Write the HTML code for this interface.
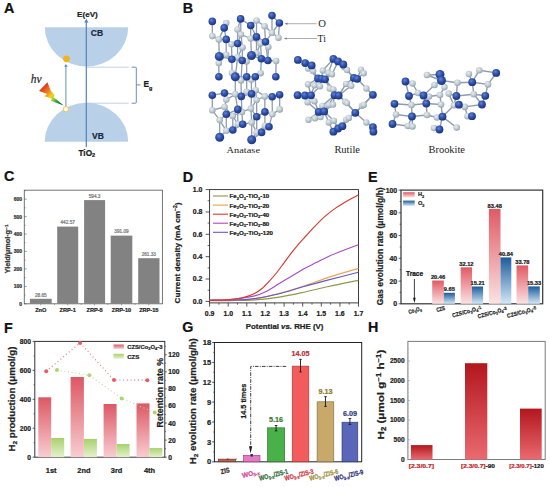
<!DOCTYPE html>
<html><head><meta charset="utf-8"><style>html,body{margin:0;padding:0;background:#fff;width:550px;height:487px;overflow:hidden}svg{display:block}</style></head>
<body><svg width="550" height="487" viewBox="0 0 550 487"><defs><linearGradient id="bolt" gradientUnits="userSpaceOnUse" x1="42" y1="86" x2="62" y2="105"><stop offset="0" stop-color="#dc2a1c"/><stop offset="0.28" stop-color="#f07a1e"/><stop offset="0.48" stop-color="#f2d21e"/><stop offset="0.62" stop-color="#a8d030"/><stop offset="0.78" stop-color="#2aa040"/><stop offset="1" stop-color="#0e5a3a"/></linearGradient><radialGradient id="ab" cx="0.4" cy="0.35" r="0.65"><stop offset="0" stop-color="#6384d4"/><stop offset="0.5" stop-color="#3052aa"/><stop offset="1" stop-color="#1a3480"/></radialGradient><radialGradient id="ag" cx="0.4" cy="0.35" r="0.65"><stop offset="0" stop-color="#e8eef2"/><stop offset="0.6" stop-color="#bcc8d0"/><stop offset="1" stop-color="#93a3ae"/></radialGradient><linearGradient id="eh" x1="0" y1="0" x2="0" y2="1"><stop offset="0" stop-color="#e05a64"/><stop offset="1" stop-color="#fbe3e4"/></linearGradient><linearGradient id="eo" x1="0" y1="0" x2="0" y2="1"><stop offset="0" stop-color="#1c5c9c"/><stop offset="1" stop-color="#d4e8f6"/></linearGradient><linearGradient id="fr" x1="0" y1="0" x2="0" y2="1"><stop offset="0" stop-color="#dc5864"/><stop offset="1" stop-color="#f8cdd1"/></linearGradient><linearGradient id="fg" x1="0" y1="0" x2="0" y2="1"><stop offset="0" stop-color="#a8d26c"/><stop offset="1" stop-color="#e4f1cf"/></linearGradient><linearGradient id="hb" x1="0" y1="0" x2="0" y2="1"><stop offset="0" stop-color="#b3161e"/><stop offset="1" stop-color="#ea6a70"/></linearGradient></defs><rect width="550" height="487" fill="#fff"/><text x="4.0" y="12.9" font-size="14.3" text-anchor="start" font-weight="bold" font-style="normal" fill="#111" font-family='"Liberation Sans", sans-serif'  stroke="#111" stroke-width="0.22">A</text>
<path d="M44.8 27.2 A41.7 39.4 0 0 0 128.2 27.2 Z" fill="#b9d0e9"/>
<path d="M44.7 141.8 A41.7 39 0 0 1 128.2 141.8 Z" fill="#b9d0e9"/>
<line x1="86.3" y1="147" x2="86.3" y2="21.5" stroke="#5482bb" stroke-width="1.2"/>
<path d="M84.2 22.5 L86.3 18.8 L88.4 22.5 Z" fill="#5482bb"/>
<text x="87.4" y="16.8" font-size="8.1" text-anchor="middle" font-weight="bold" font-style="normal" fill="#1a1a1a" font-family='"Liberation Sans", sans-serif'  stroke="#1a1a1a" stroke-width="0.22">E(eV)</text>
<text x="90.8" y="35.8" font-size="8.5" text-anchor="start" font-weight="bold" font-style="normal" fill="#1c2a44" font-family='"Liberation Sans", sans-serif'  stroke="#1c2a44" stroke-width="0.22">CB</text>
<text x="92.1" y="138.8" font-size="8.5" text-anchor="start" font-weight="bold" font-style="normal" fill="#1c2a44" font-family='"Liberation Sans", sans-serif'  stroke="#1c2a44" stroke-width="0.22">VB</text>
<text x="78.5" y="155.6" font-size="8.2" font-weight="bold" fill="#1a1a1a" font-family='"Liberation Sans", sans-serif' stroke="#1a1a1a" stroke-width="0.22">TiO<tspan font-size="5.6" dy="1.8">2</tspan></text>
<line x1="87" y1="67.2" x2="128.7" y2="67.2" stroke="#b4c8e2" stroke-width="0.8"/>
<line x1="87" y1="103.2" x2="128.7" y2="103.2" stroke="#b4c8e2" stroke-width="0.8"/>
<path d="M131.6 67.2 L135.6 67.2 Q136.3 67.2 136.3 68 L136.3 102.3 Q136.3 103.2 135.6 103.2 L131.6 103.2 M136.3 84.9 L140.5 84.9" fill="none" stroke="#5a80b8" stroke-width="0.9"/>
<text x="143.4" y="87.3" font-size="8.4" font-weight="bold" fill="#1a1a1a" font-family='"Liberation Sans", sans-serif' stroke="#1a1a1a" stroke-width="0.22">E<tspan font-size="5.4" dy="2.2">g</tspan></text>
<text x="30.8" y="82.9" font-size="11.5" text-anchor="start" font-weight="normal" font-style="italic" fill="#2a2a2a" font-family='"Liberation Serif", serif'  stroke="#2a2a2a" stroke-width="0.22">hν</text>
<path d="M47.4 82.3 L50.8 90.8 L54.5 94.8 L53.7 97.6 L56.6 99.6 L63.6 105.6 L50.8 100.8 L52.1 98.8 L44.6 96.3 L47.1 93.9 L39.1 91 Z" fill="url(#bolt)"/>
<line x1="65.9" y1="106.4" x2="65.9" y2="66" stroke="#5482bb" stroke-width="0.9"/>
<path d="M64.2 66.8 L65.9 64 L67.6 66.8 Z" fill="#5482bb"/>
<circle cx="66.5" cy="58.8" r="3.4" fill="#f2b416"/>
<circle cx="65.9" cy="109.2" r="2.7" fill="#fffbe8" stroke="#e6bc48" stroke-width="0.9"/>
<text x="182.8" y="12.7" font-size="14.3" text-anchor="start" font-weight="bold" font-style="normal" fill="#111" font-family='"Liberation Sans", sans-serif'  stroke="#111" stroke-width="0.22">B</text>
<g stroke="#8e9cb0" stroke-width="1.3"><line x1="240.6" y1="18.9" x2="237.6" y2="29.5"/><line x1="240.6" y1="18.9" x2="250.7" y2="25.5"/><line x1="272" y1="15.6" x2="279.4" y2="23"/><line x1="279.4" y1="23" x2="272" y2="32.8"/><line x1="224.2" y1="27.9" x2="226.2" y2="23"/><line x1="224.2" y1="27.9" x2="226.2" y2="39.4"/><line x1="224.2" y1="27.9" x2="218.8" y2="39.4"/><line x1="250.7" y1="25.5" x2="256.5" y2="20.5"/><line x1="250.7" y1="25.5" x2="256.5" y2="36.9"/><line x1="226.2" y1="39.4" x2="231.5" y2="44.2"/><line x1="226.2" y1="39.4" x2="218.8" y2="39.4"/><line x1="256.5" y1="36.9" x2="250.7" y2="38.5"/><line x1="256.5" y1="36.9" x2="260.5" y2="43.4"/><line x1="256.5" y1="36.9" x2="265.5" y2="41.8"/><line x1="265.5" y1="41.8" x2="260.5" y2="43.4"/><line x1="265.5" y1="41.8" x2="268.3" y2="47"/><line x1="237.6" y1="43.5" x2="231.5" y2="44.2"/><line x1="237.6" y1="43.5" x2="242.5" y2="47.5"/><line x1="237.6" y1="43.5" x2="240.9" y2="34.5"/><line x1="219.3" y1="56.4" x2="218.8" y2="63"/><line x1="219.3" y1="56.4" x2="226.2" y2="54.8"/><line x1="219.3" y1="56.4" x2="231.9" y2="59.3"/><line x1="231.9" y1="59.3" x2="237.6" y2="57.3"/><line x1="231.9" y1="59.3" x2="226.2" y2="54.8"/><line x1="231.9" y1="59.3" x2="242.2" y2="60.5"/><line x1="242.2" y1="60.5" x2="246.6" y2="61.4"/><line x1="242.2" y1="60.5" x2="237.6" y2="57.3"/><line x1="251.5" y1="55.5" x2="256.5" y2="53.2"/><line x1="251.5" y1="55.5" x2="246.6" y2="61.4"/><line x1="251.5" y1="55.5" x2="261.4" y2="58.8"/><line x1="261.4" y1="58.8" x2="267.9" y2="60.5"/><line x1="261.4" y1="58.8" x2="256.5" y2="53.2"/><line x1="267.9" y1="60.5" x2="276.1" y2="61"/><line x1="235.3" y1="76.8" x2="232" y2="73"/><line x1="235.3" y1="76.8" x2="241" y2="80.4"/><line x1="235.3" y1="76.8" x2="246.7" y2="76.8"/><line x1="246.7" y1="76.8" x2="251.2" y2="79.6"/><line x1="246.7" y1="76.8" x2="241" y2="80.4"/><line x1="246.7" y1="76.8" x2="255.3" y2="76.7"/><line x1="255.3" y1="76.7" x2="251.2" y2="79.6"/><line x1="255.3" y1="76.7" x2="260.6" y2="73.2"/><line x1="212.3" y1="95.2" x2="224.5" y2="93.1"/><line x1="224.5" y1="93.1" x2="226.3" y2="99.6"/><line x1="224.5" y1="93.1" x2="235.3" y2="94.3"/><line x1="241.3" y1="96.4" x2="235.3" y2="94.3"/><line x1="241.3" y1="96.4" x2="246.7" y2="91.8"/><line x1="241.3" y1="96.4" x2="251.6" y2="93.9"/><line x1="251.6" y1="93.9" x2="246.7" y2="91.8"/><line x1="251.6" y1="93.9" x2="255.7" y2="90.2"/><line x1="251.6" y1="93.9" x2="256.6" y2="100"/><line x1="272.2" y1="96.8" x2="264.8" y2="96.4"/><line x1="272.2" y1="96.8" x2="279.6" y2="94.7"/><line x1="237.8" y1="109.4" x2="241.9" y2="111.9"/><line x1="237.8" y1="109.4" x2="232.8" y2="116"/><line x1="237.8" y1="109.4" x2="226.3" y2="114.3"/><line x1="264.9" y1="111.9" x2="272.3" y2="114.3"/><line x1="264.9" y1="111.9" x2="256.7" y2="116.8"/><line x1="226.3" y1="114.3" x2="232.8" y2="116"/><line x1="226.3" y1="114.3" x2="224.6" y2="107"/><line x1="226.3" y1="114.3" x2="219.7" y2="120.1"/><line x1="256.7" y1="116.8" x2="251.7" y2="122.6"/><line x1="256.7" y1="116.8" x2="250.9" y2="108.6"/><line x1="242.7" y1="124.2" x2="237.8" y2="124.2"/><line x1="242.7" y1="124.2" x2="251.7" y2="122.6"/><line x1="242.7" y1="124.2" x2="232.8" y2="130"/><line x1="269" y1="126.7" x2="264.9" y2="125.8"/><line x1="269" y1="126.7" x2="261.6" y2="132.4"/><line x1="269" y1="126.7" x2="272.3" y2="114.3"/><line x1="232.8" y1="130" x2="226.3" y2="130.8"/><line x1="232.8" y1="130" x2="237.8" y2="124.2"/><line x1="261.6" y1="132.4" x2="256.7" y2="132.4"/><line x1="261.6" y1="132.4" x2="264.9" y2="125.8"/><line x1="219.7" y1="137.3" x2="226.3" y2="130.8"/><line x1="251.7" y1="139.8" x2="256.7" y2="132.4"/><line x1="251.7" y1="139.8" x2="261.6" y2="132.4"/><line x1="256.5" y1="20.5" x2="264.6" y2="26.3"/><line x1="237.6" y1="29.5" x2="240.9" y2="34.5"/><line x1="264.6" y1="26.3" x2="272" y2="32.8"/><line x1="272" y1="32.8" x2="278.5" y2="37.7"/><line x1="272" y1="32.8" x2="265.5" y2="41.8"/><line x1="212.3" y1="36.1" x2="218.8" y2="39.4"/><line x1="240.9" y1="34.5" x2="250.7" y2="38.5"/><line x1="250.7" y1="38.5" x2="260.5" y2="43.4"/><line x1="231.5" y1="44.2" x2="242.5" y2="47.5"/><line x1="242.5" y1="47.5" x2="237.6" y2="57.3"/><line x1="260.5" y1="43.4" x2="268.3" y2="47"/><line x1="226.2" y1="54.8" x2="218.8" y2="63"/><line x1="237.6" y1="57.3" x2="246.6" y2="61.4"/><line x1="256.5" y1="53.2" x2="260.5" y2="43.4"/><line x1="232" y1="73" x2="241" y2="80.4"/><line x1="260.6" y1="73.2" x2="251.2" y2="79.6"/><line x1="241" y1="80.4" x2="251.2" y2="79.6"/><line x1="255.7" y1="90.2" x2="246.7" y2="91.8"/><line x1="255.7" y1="90.2" x2="256.6" y2="100"/><line x1="235.3" y1="94.3" x2="226.3" y2="99.6"/><line x1="226.3" y1="99.6" x2="224.6" y2="107"/><line x1="256.6" y1="100" x2="264.8" y2="96.4"/><line x1="264.8" y1="96.4" x2="255.7" y2="90.2"/><line x1="212.3" y1="110.2" x2="219.7" y2="120.1"/><line x1="212.3" y1="110.2" x2="224.6" y2="107"/><line x1="224.6" y1="107" x2="232.8" y2="116"/><line x1="250.9" y1="108.6" x2="241.9" y2="111.9"/><line x1="250.9" y1="108.6" x2="256.6" y2="100"/><line x1="279.7" y1="109.4" x2="272.3" y2="114.3"/><line x1="232.8" y1="116" x2="237.8" y2="124.2"/><line x1="241.9" y1="111.9" x2="232.8" y2="116"/><line x1="219.7" y1="120.1" x2="226.3" y2="130.8"/><line x1="251.7" y1="122.6" x2="256.7" y2="132.4"/><line x1="264.9" y1="125.8" x2="256.7" y2="132.4"/><line x1="212.3" y1="21.4" x2="212.3" y2="36.1"/><line x1="240.6" y1="18.9" x2="240.9" y2="34.5"/><line x1="272" y1="15.6" x2="272" y2="32.8"/><line x1="279.4" y1="23" x2="278.5" y2="37.7"/><line x1="250.7" y1="25.5" x2="250.7" y2="38.5"/><line x1="226.2" y1="39.4" x2="226.2" y2="54.8"/><line x1="256.5" y1="36.9" x2="256.5" y2="53.2"/><line x1="265.5" y1="41.8" x2="267.9" y2="60.5"/><line x1="237.6" y1="43.5" x2="237.6" y2="57.3"/><line x1="231.9" y1="59.3" x2="232" y2="73"/><line x1="242.2" y1="60.5" x2="241" y2="80.4"/><line x1="261.4" y1="58.8" x2="260.6" y2="73.2"/><line x1="235.3" y1="76.8" x2="235.3" y2="94.3"/><line x1="246.7" y1="76.8" x2="246.7" y2="91.8"/><line x1="255.3" y1="76.7" x2="255.7" y2="90.2"/><line x1="212.3" y1="95.2" x2="212.3" y2="110.2"/><line x1="241.3" y1="96.4" x2="241.9" y2="111.9"/><line x1="251.6" y1="93.9" x2="250.9" y2="108.6"/><line x1="272.2" y1="96.8" x2="272.3" y2="114.3"/><line x1="279.6" y1="94.7" x2="279.7" y2="109.4"/><line x1="237.8" y1="109.4" x2="237.8" y2="124.2"/><line x1="264.9" y1="111.9" x2="264.9" y2="125.8"/><line x1="226.3" y1="114.3" x2="226.3" y2="130.8"/><line x1="256.7" y1="116.8" x2="256.7" y2="132.4"/><line x1="256.5" y1="20.5" x2="256.5" y2="36.9"/><line x1="237.6" y1="29.5" x2="237.6" y2="43.5"/><line x1="264.6" y1="26.3" x2="265.5" y2="41.8"/><line x1="218.8" y1="39.4" x2="219.3" y2="56.4"/><line x1="240.9" y1="34.5" x2="242.5" y2="47.5"/><line x1="250.7" y1="38.5" x2="251.5" y2="55.5"/><line x1="231.5" y1="44.2" x2="231.9" y2="59.3"/><line x1="242.5" y1="47.5" x2="242.2" y2="60.5"/><line x1="260.5" y1="43.4" x2="261.4" y2="58.8"/><line x1="268.3" y1="47" x2="267.9" y2="60.5"/><line x1="237.6" y1="57.3" x2="235.3" y2="76.8"/><line x1="246.6" y1="61.4" x2="246.7" y2="76.8"/><line x1="276.1" y1="61" x2="275.8" y2="76.8"/><line x1="218.8" y1="63" x2="218.9" y2="76.8"/><line x1="241" y1="80.4" x2="241.3" y2="96.4"/><line x1="251.2" y1="79.6" x2="251.6" y2="93.9"/><line x1="235.3" y1="94.3" x2="237.8" y2="109.4"/><line x1="256.6" y1="100" x2="256.7" y2="116.8"/><line x1="264.8" y1="96.4" x2="264.9" y2="111.9"/><line x1="250.9" y1="108.6" x2="251.7" y2="122.6"/><line x1="232.8" y1="116" x2="232.8" y2="130"/><line x1="241.9" y1="111.9" x2="242.7" y2="124.2"/><line x1="219.7" y1="120.1" x2="219.7" y2="137.3"/><line x1="251.7" y1="122.6" x2="251.7" y2="139.8"/></g>
<circle cx="226.2" cy="23" r="3.3" fill="url(#ag)"/>
<circle cx="256.5" cy="20.5" r="3.3" fill="url(#ag)"/>
<circle cx="237.6" cy="29.5" r="3.3" fill="url(#ag)"/>
<circle cx="264.6" cy="26.3" r="3.3" fill="url(#ag)"/>
<circle cx="272" cy="32.8" r="3.3" fill="url(#ag)"/>
<circle cx="212.3" cy="36.1" r="3.3" fill="url(#ag)"/>
<circle cx="218.8" cy="39.4" r="3.3" fill="url(#ag)"/>
<circle cx="240.9" cy="34.5" r="3.3" fill="url(#ag)"/>
<circle cx="250.7" cy="38.5" r="3.3" fill="url(#ag)"/>
<circle cx="278.5" cy="37.7" r="3.3" fill="url(#ag)"/>
<circle cx="231.5" cy="44.2" r="3.3" fill="url(#ag)"/>
<circle cx="242.5" cy="47.5" r="3.3" fill="url(#ag)"/>
<circle cx="260.5" cy="43.4" r="3.3" fill="url(#ag)"/>
<circle cx="268.3" cy="47" r="3.3" fill="url(#ag)"/>
<circle cx="226.2" cy="54.8" r="3.3" fill="url(#ag)"/>
<circle cx="237.6" cy="57.3" r="3.3" fill="url(#ag)"/>
<circle cx="246.6" cy="61.4" r="3.3" fill="url(#ag)"/>
<circle cx="256.5" cy="53.2" r="3.3" fill="url(#ag)"/>
<circle cx="276.1" cy="61" r="3.3" fill="url(#ag)"/>
<circle cx="218.8" cy="63" r="3.3" fill="url(#ag)"/>
<circle cx="232" cy="73" r="3.3" fill="url(#ag)"/>
<circle cx="260.6" cy="73.2" r="3.3" fill="url(#ag)"/>
<circle cx="241" cy="80.4" r="3.3" fill="url(#ag)"/>
<circle cx="251.2" cy="79.6" r="3.3" fill="url(#ag)"/>
<circle cx="255.7" cy="90.2" r="3.3" fill="url(#ag)"/>
<circle cx="246.7" cy="91.8" r="3.3" fill="url(#ag)"/>
<circle cx="235.3" cy="94.3" r="3.3" fill="url(#ag)"/>
<circle cx="226.3" cy="99.6" r="3.3" fill="url(#ag)"/>
<circle cx="256.6" cy="100" r="3.3" fill="url(#ag)"/>
<circle cx="264.8" cy="96.4" r="3.3" fill="url(#ag)"/>
<circle cx="212.3" cy="110.2" r="3.3" fill="url(#ag)"/>
<circle cx="224.6" cy="107" r="3.3" fill="url(#ag)"/>
<circle cx="250.9" cy="108.6" r="3.3" fill="url(#ag)"/>
<circle cx="279.7" cy="109.4" r="3.3" fill="url(#ag)"/>
<circle cx="232.8" cy="116" r="3.3" fill="url(#ag)"/>
<circle cx="241.9" cy="111.9" r="3.3" fill="url(#ag)"/>
<circle cx="272.3" cy="114.3" r="3.3" fill="url(#ag)"/>
<circle cx="219.7" cy="120.1" r="3.3" fill="url(#ag)"/>
<circle cx="237.8" cy="124.2" r="3.3" fill="url(#ag)"/>
<circle cx="251.7" cy="122.6" r="3.3" fill="url(#ag)"/>
<circle cx="264.9" cy="125.8" r="3.3" fill="url(#ag)"/>
<circle cx="226.3" cy="130.8" r="3.3" fill="url(#ag)"/>
<circle cx="256.7" cy="132.4" r="3.3" fill="url(#ag)"/>
<circle cx="212.3" cy="21.4" r="3.8" fill="url(#ab)"/>
<circle cx="240.6" cy="18.9" r="3.8" fill="url(#ab)"/>
<circle cx="272" cy="15.6" r="3.8" fill="url(#ab)"/>
<circle cx="279.4" cy="23" r="3.8" fill="url(#ab)"/>
<circle cx="224.2" cy="27.9" r="3.8" fill="url(#ab)"/>
<circle cx="250.7" cy="25.5" r="3.8" fill="url(#ab)"/>
<circle cx="226.2" cy="39.4" r="3.8" fill="url(#ab)"/>
<circle cx="256.5" cy="36.9" r="3.8" fill="url(#ab)"/>
<circle cx="265.5" cy="41.8" r="3.8" fill="url(#ab)"/>
<circle cx="237.6" cy="43.5" r="3.8" fill="url(#ab)"/>
<circle cx="219.3" cy="56.4" r="4.5" fill="url(#ab)"/>
<circle cx="231.9" cy="59.3" r="3.8" fill="url(#ab)"/>
<circle cx="242.2" cy="60.5" r="3.8" fill="url(#ab)"/>
<circle cx="251.5" cy="55.5" r="4.5" fill="url(#ab)"/>
<circle cx="261.4" cy="58.8" r="3.8" fill="url(#ab)"/>
<circle cx="267.9" cy="60.5" r="3.8" fill="url(#ab)"/>
<circle cx="218.9" cy="76.8" r="3.8" fill="url(#ab)"/>
<circle cx="235.3" cy="76.8" r="4.5" fill="url(#ab)"/>
<circle cx="246.7" cy="76.8" r="3.8" fill="url(#ab)"/>
<circle cx="255.3" cy="76.7" r="3.8" fill="url(#ab)"/>
<circle cx="275.8" cy="76.8" r="3.8" fill="url(#ab)"/>
<circle cx="212.3" cy="95.2" r="3.8" fill="url(#ab)"/>
<circle cx="224.5" cy="93.1" r="3.8" fill="url(#ab)"/>
<circle cx="241.3" cy="96.4" r="3.8" fill="url(#ab)"/>
<circle cx="251.6" cy="93.9" r="3.8" fill="url(#ab)"/>
<circle cx="272.2" cy="96.8" r="3.8" fill="url(#ab)"/>
<circle cx="279.6" cy="94.7" r="3.8" fill="url(#ab)"/>
<circle cx="237.8" cy="109.4" r="3.8" fill="url(#ab)"/>
<circle cx="264.9" cy="111.9" r="3.8" fill="url(#ab)"/>
<circle cx="226.3" cy="114.3" r="3.8" fill="url(#ab)"/>
<circle cx="256.7" cy="116.8" r="3.8" fill="url(#ab)"/>
<circle cx="242.7" cy="124.2" r="3.8" fill="url(#ab)"/>
<circle cx="269" cy="126.7" r="3.8" fill="url(#ab)"/>
<circle cx="232.8" cy="130" r="3.8" fill="url(#ab)"/>
<circle cx="261.6" cy="132.4" r="3.8" fill="url(#ab)"/>
<circle cx="219.7" cy="137.3" r="4.5" fill="url(#ab)"/>
<circle cx="251.7" cy="139.8" r="4.5" fill="url(#ab)"/>
<g stroke="#8e9cb0" stroke-width="1.4"><line x1="311.7" y1="65.4" x2="308" y2="68.6"/><line x1="308" y1="68.6" x2="318" y2="78.5"/><line x1="311.7" y1="65.4" x2="313.1" y2="70.9"/><line x1="313.1" y1="70.9" x2="318" y2="78.5"/><line x1="333.4" y1="58.9" x2="322.8" y2="70.5"/><line x1="322.8" y1="70.5" x2="321.5" y2="78.8"/><line x1="333.4" y1="58.9" x2="328.4" y2="72.8"/><line x1="328.4" y1="72.8" x2="325" y2="79.3"/><line x1="338.1" y1="61.4" x2="332" y2="74.2"/><line x1="332" y1="74.2" x2="325" y2="79.3"/><line x1="343.3" y1="64.5" x2="344.2" y2="67.2"/><line x1="344.2" y1="67.2" x2="353.9" y2="77.9"/><line x1="343.3" y1="64.5" x2="347" y2="70"/><line x1="347" y1="70" x2="353.9" y2="77.9"/><line x1="357.2" y1="78.8" x2="360.9" y2="69.6"/><line x1="357.2" y1="78.8" x2="363.7" y2="73.3"/><line x1="318" y1="78.5" x2="308" y2="84.3"/><line x1="308" y1="84.3" x2="311" y2="95.3"/><line x1="318" y1="78.5" x2="314.5" y2="85.3"/><line x1="314.5" y1="85.3" x2="311" y2="95.3"/><line x1="321.5" y1="78.8" x2="320" y2="86.2"/><line x1="320" y1="86.2" x2="311" y2="95.3"/><line x1="325" y1="79.3" x2="329.7" y2="88.5"/><line x1="329.7" y1="88.5" x2="334.6" y2="95.2"/><line x1="325" y1="79.3" x2="333.4" y2="89.4"/><line x1="333.4" y1="89.4" x2="334.6" y2="95.2"/><line x1="353.9" y1="77.9" x2="346.1" y2="83.9"/><line x1="346.1" y1="83.9" x2="338.7" y2="95.5"/><line x1="353.9" y1="77.9" x2="351.2" y2="85.7"/><line x1="351.2" y1="85.7" x2="338.7" y2="95.5"/><line x1="357.2" y1="78.8" x2="366.4" y2="88.5"/><line x1="366.4" y1="88.5" x2="372.9" y2="94.8"/><line x1="305" y1="95.5" x2="307.6" y2="102.2"/><line x1="307.6" y1="102.2" x2="318.7" y2="111.9"/><line x1="311" y1="95.3" x2="314.5" y2="101.2"/><line x1="314.5" y1="101.2" x2="318.7" y2="111.9"/><line x1="334.6" y1="95.2" x2="322.3" y2="105.9"/><line x1="322.3" y1="105.9" x2="324.2" y2="111.4"/><line x1="334.6" y1="95.2" x2="328.8" y2="104.9"/><line x1="328.8" y1="104.9" x2="324.2" y2="111.4"/><line x1="334.6" y1="95.2" x2="333" y2="104.5"/><line x1="333" y1="104.5" x2="324.2" y2="111.4"/><line x1="338.7" y1="95.5" x2="345.2" y2="101.7"/><line x1="345.2" y1="101.7" x2="355.3" y2="112.8"/><line x1="338.7" y1="95.5" x2="347" y2="103.1"/><line x1="347" y1="103.1" x2="355.3" y2="112.8"/><line x1="372.9" y1="94.8" x2="361.8" y2="105.9"/><line x1="361.8" y1="105.9" x2="355.3" y2="112.8"/><line x1="372.9" y1="94.8" x2="363.7" y2="104.9"/><line x1="363.7" y1="104.9" x2="355.3" y2="112.8"/><line x1="318.7" y1="111.9" x2="308.5" y2="119.7"/><line x1="318.7" y1="111.9" x2="315" y2="118.3"/><line x1="318.7" y1="111.9" x2="320.5" y2="117"/><line x1="324.2" y1="111.4" x2="328.8" y2="122.5"/><line x1="328.8" y1="122.5" x2="333.4" y2="131.7"/><line x1="324.2" y1="111.4" x2="333.9" y2="120.7"/><line x1="333.9" y1="120.7" x2="338.1" y2="128.5"/><line x1="355.3" y1="112.8" x2="346.1" y2="119.7"/><line x1="346.1" y1="119.7" x2="342.4" y2="126.2"/><line x1="355.3" y1="112.8" x2="348.9" y2="117.9"/><line x1="348.9" y1="117.9" x2="342.4" y2="126.2"/><line x1="355.3" y1="112.8" x2="366.4" y2="122.5"/><line x1="366.4" y1="122.5" x2="372.9" y2="127.1"/></g>
<circle cx="308" cy="68.6" r="3.2" fill="url(#ag)"/>
<circle cx="313.1" cy="70.9" r="3.2" fill="url(#ag)"/>
<circle cx="322.8" cy="70.5" r="3.2" fill="url(#ag)"/>
<circle cx="328.4" cy="72.8" r="3.2" fill="url(#ag)"/>
<circle cx="332" cy="74.2" r="3.2" fill="url(#ag)"/>
<circle cx="344.2" cy="67.2" r="3.2" fill="url(#ag)"/>
<circle cx="347" cy="70" r="3.2" fill="url(#ag)"/>
<circle cx="360.9" cy="69.6" r="3.2" fill="url(#ag)"/>
<circle cx="363.7" cy="73.3" r="3.2" fill="url(#ag)"/>
<circle cx="308" cy="84.3" r="3.2" fill="url(#ag)"/>
<circle cx="314.5" cy="85.3" r="3.2" fill="url(#ag)"/>
<circle cx="320" cy="86.2" r="3.2" fill="url(#ag)"/>
<circle cx="329.7" cy="88.5" r="3.2" fill="url(#ag)"/>
<circle cx="333.4" cy="89.4" r="3.2" fill="url(#ag)"/>
<circle cx="346.1" cy="83.9" r="3.2" fill="url(#ag)"/>
<circle cx="351.2" cy="85.7" r="3.2" fill="url(#ag)"/>
<circle cx="366.4" cy="88.5" r="3.2" fill="url(#ag)"/>
<circle cx="307.6" cy="102.2" r="3.2" fill="url(#ag)"/>
<circle cx="314.5" cy="101.2" r="3.2" fill="url(#ag)"/>
<circle cx="322.3" cy="105.9" r="3.2" fill="url(#ag)"/>
<circle cx="328.8" cy="104.9" r="3.2" fill="url(#ag)"/>
<circle cx="333" cy="104.5" r="3.2" fill="url(#ag)"/>
<circle cx="345.2" cy="101.7" r="3.2" fill="url(#ag)"/>
<circle cx="347" cy="103.1" r="3.2" fill="url(#ag)"/>
<circle cx="361.8" cy="105.9" r="3.2" fill="url(#ag)"/>
<circle cx="363.7" cy="104.9" r="3.2" fill="url(#ag)"/>
<circle cx="308.5" cy="119.7" r="3.2" fill="url(#ag)"/>
<circle cx="315" cy="118.3" r="3.2" fill="url(#ag)"/>
<circle cx="320.5" cy="117" r="3.2" fill="url(#ag)"/>
<circle cx="328.8" cy="122.5" r="3.2" fill="url(#ag)"/>
<circle cx="333.9" cy="120.7" r="3.2" fill="url(#ag)"/>
<circle cx="346.1" cy="119.7" r="3.2" fill="url(#ag)"/>
<circle cx="348.9" cy="117.9" r="3.2" fill="url(#ag)"/>
<circle cx="366.4" cy="122.5" r="3.2" fill="url(#ag)"/>
<circle cx="297.9" cy="59.9" r="3.9" fill="url(#ab)"/>
<circle cx="305.2" cy="63.1" r="3.9" fill="url(#ab)"/>
<circle cx="311.7" cy="65.4" r="3.9" fill="url(#ab)"/>
<circle cx="333.4" cy="58.9" r="3.9" fill="url(#ab)"/>
<circle cx="338.1" cy="61.4" r="3.9" fill="url(#ab)"/>
<circle cx="343.3" cy="64.5" r="3.9" fill="url(#ab)"/>
<circle cx="318" cy="78.5" r="3.9" fill="url(#ab)"/>
<circle cx="321.5" cy="78.8" r="3.9" fill="url(#ab)"/>
<circle cx="325" cy="79.3" r="3.9" fill="url(#ab)"/>
<circle cx="353.9" cy="77.9" r="3.9" fill="url(#ab)"/>
<circle cx="357.2" cy="78.8" r="3.9" fill="url(#ab)"/>
<circle cx="297.6" cy="95.2" r="3.9" fill="url(#ab)"/>
<circle cx="305" cy="95.5" r="3.9" fill="url(#ab)"/>
<circle cx="311" cy="95.3" r="3.9" fill="url(#ab)"/>
<circle cx="334.6" cy="95.2" r="3.9" fill="url(#ab)"/>
<circle cx="338.7" cy="95.5" r="3.9" fill="url(#ab)"/>
<circle cx="372.9" cy="94.8" r="3.9" fill="url(#ab)"/>
<circle cx="318.7" cy="111.9" r="3.9" fill="url(#ab)"/>
<circle cx="324.2" cy="111.4" r="3.9" fill="url(#ab)"/>
<circle cx="355.3" cy="112.8" r="3.9" fill="url(#ab)"/>
<circle cx="333.4" cy="131.7" r="3.9" fill="url(#ab)"/>
<circle cx="338.1" cy="128.5" r="3.9" fill="url(#ab)"/>
<circle cx="342.4" cy="126.2" r="3.9" fill="url(#ab)"/>
<circle cx="372.9" cy="127.1" r="3.9" fill="url(#ab)"/>
<circle cx="373.4" cy="131.7" r="3.9" fill="url(#ab)"/>
<g stroke="#8e9cb0" stroke-width="1.4"><line x1="405.5" y1="81.5" x2="412.5" y2="83.5"/><line x1="412.5" y1="83.5" x2="418" y2="93"/><line x1="418" y1="93" x2="423.5" y2="95.5"/><line x1="409" y1="96" x2="418" y2="93"/><line x1="427" y1="75" x2="440" y2="74.5"/><line x1="427" y1="75" x2="441.5" y2="80.5"/><line x1="434.5" y1="85" x2="423.5" y2="95.5"/><line x1="434.5" y1="85" x2="441.5" y2="80.5"/><line x1="423.5" y1="95.5" x2="426.3" y2="103.5"/><line x1="423.5" y1="95.5" x2="429" y2="96.5"/><line x1="429" y1="96.5" x2="440" y2="95"/><line x1="409" y1="96" x2="411.5" y2="105"/><line x1="441.5" y1="80.5" x2="457.4" y2="82.7"/><line x1="457.4" y1="82.7" x2="456.4" y2="96"/><line x1="472.2" y1="82.2" x2="457.4" y2="82.7"/><line x1="472.2" y1="82.2" x2="468.9" y2="74"/><line x1="472.2" y1="82.2" x2="479.3" y2="70.2"/><line x1="479.3" y1="70.2" x2="496.2" y2="72.9"/><line x1="496.2" y1="72.9" x2="488" y2="84.4"/><line x1="472.2" y1="82.2" x2="488" y2="84.4"/><line x1="488" y1="84.4" x2="485.3" y2="95.8"/><line x1="472.2" y1="82.2" x2="473.8" y2="94.2"/><line x1="473.8" y1="94.2" x2="485.3" y2="95.8"/><line x1="473.8" y1="94.2" x2="456.4" y2="96"/><line x1="473.8" y1="94.2" x2="482" y2="104.5"/><line x1="444.4" y1="87.1" x2="441.5" y2="80.5"/><line x1="448.7" y1="93.6" x2="456.4" y2="96"/><line x1="394.5" y1="103.8" x2="411.5" y2="105"/><line x1="394.5" y1="103.8" x2="396" y2="114.5"/><line x1="396" y1="114.5" x2="412" y2="116.5"/><line x1="396" y1="114.5" x2="392.5" y2="124"/><line x1="392.5" y1="124" x2="408" y2="126"/><line x1="412" y1="116.5" x2="408" y2="126"/><line x1="412" y1="116.5" x2="412.5" y2="126.5"/><line x1="411.5" y1="105" x2="412" y2="116.5"/><line x1="411.5" y1="105" x2="426.3" y2="103.5"/><line x1="412" y1="116.5" x2="427" y2="115"/><line x1="427" y1="115" x2="426.3" y2="103.5"/><line x1="427" y1="115" x2="437" y2="117.5"/><line x1="426.3" y1="103.5" x2="441" y2="104.5"/><line x1="441" y1="104.5" x2="442.5" y2="116.7"/><line x1="442.5" y1="116.7" x2="456.7" y2="127.6"/><line x1="442.5" y1="116.7" x2="439.5" y2="129.5"/><line x1="454" y1="105.3" x2="442.5" y2="116.7"/><line x1="458.9" y1="104.7" x2="464.9" y2="106.9"/><line x1="464.9" y1="106.9" x2="467.5" y2="116.2"/><line x1="464.9" y1="106.9" x2="482" y2="104.5"/><line x1="482" y1="104.5" x2="485.3" y2="95.8"/><line x1="454" y1="105.3" x2="456.4" y2="96"/><line x1="437" y1="117.5" x2="442.5" y2="116.7"/><line x1="434" y1="128" x2="439.5" y2="129.5"/><line x1="440" y1="95" x2="441" y2="104.5"/><line x1="448.7" y1="93.6" x2="454" y2="105.3"/><line x1="405.5" y1="81.5" x2="409" y2="96"/><line x1="440" y1="95" x2="444.4" y2="87.1"/><line x1="467.5" y1="116.2" x2="472" y2="116.2"/></g>
<circle cx="427" cy="75" r="3.3" fill="url(#ag)"/>
<circle cx="412.5" cy="83.5" r="3.3" fill="url(#ag)"/>
<circle cx="418" cy="93" r="3.3" fill="url(#ag)"/>
<circle cx="434.5" cy="85" r="3.3" fill="url(#ag)"/>
<circle cx="440" cy="95" r="3.3" fill="url(#ag)"/>
<circle cx="429" cy="96.5" r="3.3" fill="url(#ag)"/>
<circle cx="411.5" cy="105" r="3.3" fill="url(#ag)"/>
<circle cx="457.4" cy="82.7" r="3.3" fill="url(#ag)"/>
<circle cx="468.9" cy="74" r="3.3" fill="url(#ag)"/>
<circle cx="479.3" cy="70.2" r="3.3" fill="url(#ag)"/>
<circle cx="488" cy="84.4" r="3.3" fill="url(#ag)"/>
<circle cx="473.8" cy="94.2" r="3.3" fill="url(#ag)"/>
<circle cx="444.4" cy="87.1" r="3.3" fill="url(#ag)"/>
<circle cx="448.7" cy="93.6" r="3.3" fill="url(#ag)"/>
<circle cx="396" cy="114.5" r="3.3" fill="url(#ag)"/>
<circle cx="408" cy="126" r="3.3" fill="url(#ag)"/>
<circle cx="412.5" cy="126.5" r="3.3" fill="url(#ag)"/>
<circle cx="427" cy="115" r="3.3" fill="url(#ag)"/>
<circle cx="441" cy="104.5" r="3.3" fill="url(#ag)"/>
<circle cx="437" cy="117.5" r="3.3" fill="url(#ag)"/>
<circle cx="434" cy="128" r="3.3" fill="url(#ag)"/>
<circle cx="454" cy="105.3" r="3.3" fill="url(#ag)"/>
<circle cx="464.9" cy="106.9" r="3.3" fill="url(#ag)"/>
<circle cx="467.5" cy="116.2" r="3.3" fill="url(#ag)"/>
<circle cx="456.7" cy="127.6" r="3.3" fill="url(#ag)"/>
<circle cx="405.5" cy="81.5" r="3.9" fill="url(#ab)"/>
<circle cx="409" cy="96" r="3.9" fill="url(#ab)"/>
<circle cx="423.5" cy="95.5" r="3.9" fill="url(#ab)"/>
<circle cx="394.5" cy="103.8" r="3.9" fill="url(#ab)"/>
<circle cx="440" cy="74.5" r="4.5" fill="url(#ab)"/>
<circle cx="441.5" cy="80.5" r="4.5" fill="url(#ab)"/>
<circle cx="426.3" cy="103.5" r="3.9" fill="url(#ab)"/>
<circle cx="472.2" cy="82.2" r="3.9" fill="url(#ab)"/>
<circle cx="496.2" cy="72.9" r="3.9" fill="url(#ab)"/>
<circle cx="485.3" cy="95.8" r="3.9" fill="url(#ab)"/>
<circle cx="456.4" cy="96" r="3.9" fill="url(#ab)"/>
<circle cx="458.9" cy="104.7" r="3.9" fill="url(#ab)"/>
<circle cx="482" cy="104.5" r="3.9" fill="url(#ab)"/>
<circle cx="392.5" cy="124" r="3.9" fill="url(#ab)"/>
<circle cx="412" cy="116.5" r="3.9" fill="url(#ab)"/>
<circle cx="442.5" cy="116.7" r="3.9" fill="url(#ab)"/>
<circle cx="439.5" cy="129.5" r="3.9" fill="url(#ab)"/>
<circle cx="472" cy="116.2" r="3.9" fill="url(#ab)"/>
<g stroke="#777" stroke-width="0.6"><line x1="286" y1="23.7" x2="316.5" y2="23.7"/><line x1="286" y1="38.5" x2="317" y2="38.5"/></g>
<path d="M284.5 23.7 L287.5 22.6 L287.5 24.8 Z M283.8 38.5 L286.8 37.4 L286.8 39.6 Z" fill="#777"/>
<text x="318.3" y="27.2" font-size="9.6" textLength="7.7" lengthAdjust="spacingAndGlyphs" fill="#1e1e1e" stroke="none" font-family='"Liberation Serif", serif'>O</text>
<text x="317.6" y="41.7" font-size="9.6" textLength="8.4" lengthAdjust="spacingAndGlyphs" fill="#1e1e1e" stroke="none" font-family='"Liberation Serif", serif'>Ti</text>
<text x="226.6" y="152.8" font-size="9.0" textLength="33.4" lengthAdjust="spacingAndGlyphs" fill="#1e1e1e" stroke="none" font-family='"Liberation Serif", serif'>Anatase</text>
<text x="334.4" y="153.0" font-size="9.3" textLength="25.6" lengthAdjust="spacingAndGlyphs" fill="#1e1e1e" stroke="none" font-family='"Liberation Serif", serif'>Rutile</text>
<text x="428.5" y="152.8" font-size="9.3" textLength="36.5" lengthAdjust="spacingAndGlyphs" fill="#1e1e1e" stroke="none" font-family='"Liberation Serif", serif'>Brookite</text>
<text x="3.9" y="181.3" font-size="14.3" text-anchor="start" font-weight="bold" font-style="normal" fill="#111" font-family='"Liberation Sans", sans-serif'  stroke="#111" stroke-width="0.22">C</text>
<rect x="24.3" y="190.2" width="138.1" height="113.6" fill="none" stroke="#666" stroke-width="0.9"/>
<line x1="24.3" y1="303.8" x2="26.7" y2="303.8" stroke="#555" stroke-width="0.6"/>
<text x="22.1" y="305.7" font-size="5.0" text-anchor="end" font-weight="bold" font-style="normal" fill="#333" font-family='"Liberation Sans", sans-serif'  stroke="#333" stroke-width="0.22">0</text>
<line x1="24.3" y1="286.4" x2="26.7" y2="286.4" stroke="#555" stroke-width="0.6"/>
<text x="22.1" y="288.2" font-size="5.0" text-anchor="end" font-weight="bold" font-style="normal" fill="#333" font-family='"Liberation Sans", sans-serif'  stroke="#333" stroke-width="0.22">100</text>
<line x1="24.3" y1="268.9" x2="26.7" y2="268.9" stroke="#555" stroke-width="0.6"/>
<text x="22.1" y="270.8" font-size="5.0" text-anchor="end" font-weight="bold" font-style="normal" fill="#333" font-family='"Liberation Sans", sans-serif'  stroke="#333" stroke-width="0.22">200</text>
<line x1="24.3" y1="251.4" x2="26.7" y2="251.4" stroke="#555" stroke-width="0.6"/>
<text x="22.1" y="253.3" font-size="5.0" text-anchor="end" font-weight="bold" font-style="normal" fill="#333" font-family='"Liberation Sans", sans-serif'  stroke="#333" stroke-width="0.22">300</text>
<line x1="24.3" y1="234.0" x2="26.7" y2="234.0" stroke="#555" stroke-width="0.6"/>
<text x="22.1" y="235.9" font-size="5.0" text-anchor="end" font-weight="bold" font-style="normal" fill="#333" font-family='"Liberation Sans", sans-serif'  stroke="#333" stroke-width="0.22">400</text>
<line x1="24.3" y1="216.6" x2="26.7" y2="216.6" stroke="#555" stroke-width="0.6"/>
<text x="22.1" y="218.5" font-size="5.0" text-anchor="end" font-weight="bold" font-style="normal" fill="#333" font-family='"Liberation Sans", sans-serif'  stroke="#333" stroke-width="0.22">500</text>
<line x1="24.3" y1="199.1" x2="26.7" y2="199.1" stroke="#555" stroke-width="0.6"/>
<text x="22.1" y="201.0" font-size="5.0" text-anchor="end" font-weight="bold" font-style="normal" fill="#333" font-family='"Liberation Sans", sans-serif'  stroke="#333" stroke-width="0.22">600</text>
<line x1="24.3" y1="295.1" x2="25.7" y2="295.1" stroke="#555" stroke-width="0.5"/>
<line x1="24.3" y1="277.6" x2="25.7" y2="277.6" stroke="#555" stroke-width="0.5"/>
<line x1="24.3" y1="260.2" x2="25.7" y2="260.2" stroke="#555" stroke-width="0.5"/>
<line x1="24.3" y1="242.7" x2="25.7" y2="242.7" stroke="#555" stroke-width="0.5"/>
<line x1="24.3" y1="225.3" x2="25.7" y2="225.3" stroke="#555" stroke-width="0.5"/>
<line x1="24.3" y1="207.8" x2="25.7" y2="207.8" stroke="#555" stroke-width="0.5"/>
<line x1="24.3" y1="190.4" x2="25.7" y2="190.4" stroke="#555" stroke-width="0.5"/>
<rect x="29.9" y="298.8" width="21.8" height="5.0" fill="#828282"/>
<text x="40.8" y="296.6" font-size="4.7" text-anchor="middle" font-weight="normal" font-style="normal" fill="#777" font-family='"Liberation Sans", sans-serif'  stroke="#777" stroke-width="0.22">28.65</text>
<text x="40.8" y="311.7" font-size="5.6" text-anchor="middle" font-weight="bold" font-style="normal" fill="#222" font-family='"Liberation Sans", sans-serif'  stroke="#222" stroke-width="0.22">ZnO</text>
<line x1="40.8" y1="303.8" x2="40.8" y2="305.40000000000003" stroke="#555" stroke-width="0.5"/>
<line x1="54.5" y1="303.8" x2="54.5" y2="305.0" stroke="#555" stroke-width="0.5"/>
<rect x="57.2" y="226.6" width="21.0" height="77.2" fill="#828282"/>
<text x="67.7" y="224.4" font-size="4.7" text-anchor="middle" font-weight="normal" font-style="normal" fill="#777" font-family='"Liberation Sans", sans-serif'  stroke="#777" stroke-width="0.22">442.57</text>
<text x="67.7" y="311.7" font-size="5.6" text-anchor="middle" font-weight="bold" font-style="normal" fill="#222" font-family='"Liberation Sans", sans-serif'  stroke="#222" stroke-width="0.22">ZRP-1</text>
<line x1="67.7" y1="303.8" x2="67.7" y2="305.40000000000003" stroke="#555" stroke-width="0.5"/>
<line x1="81.2" y1="303.8" x2="81.2" y2="305.0" stroke="#555" stroke-width="0.5"/>
<rect x="84.1" y="200.1" width="21.0" height="103.7" fill="#828282"/>
<text x="94.6" y="197.9" font-size="4.7" text-anchor="middle" font-weight="normal" font-style="normal" fill="#777" font-family='"Liberation Sans", sans-serif'  stroke="#777" stroke-width="0.22">594.3</text>
<text x="94.6" y="311.7" font-size="5.6" text-anchor="middle" font-weight="bold" font-style="normal" fill="#222" font-family='"Liberation Sans", sans-serif'  stroke="#222" stroke-width="0.22">ZRP-5</text>
<line x1="94.6" y1="303.8" x2="94.6" y2="305.40000000000003" stroke="#555" stroke-width="0.5"/>
<line x1="107.9" y1="303.8" x2="107.9" y2="305.0" stroke="#555" stroke-width="0.5"/>
<rect x="110.7" y="235.6" width="21.6" height="68.2" fill="#828282"/>
<text x="121.5" y="233.4" font-size="4.7" text-anchor="middle" font-weight="normal" font-style="normal" fill="#777" font-family='"Liberation Sans", sans-serif'  stroke="#777" stroke-width="0.22">391.09</text>
<text x="121.5" y="311.7" font-size="5.6" text-anchor="middle" font-weight="bold" font-style="normal" fill="#222" font-family='"Liberation Sans", sans-serif'  stroke="#222" stroke-width="0.22">ZRP-10</text>
<line x1="121.5" y1="303.8" x2="121.5" y2="305.40000000000003" stroke="#555" stroke-width="0.5"/>
<line x1="135.2" y1="303.8" x2="135.2" y2="305.0" stroke="#555" stroke-width="0.5"/>
<rect x="138.2" y="258.2" width="21.3" height="45.6" fill="#828282"/>
<text x="148.8" y="256.0" font-size="4.7" text-anchor="middle" font-weight="normal" font-style="normal" fill="#777" font-family='"Liberation Sans", sans-serif'  stroke="#777" stroke-width="0.22">261.33</text>
<text x="148.8" y="311.7" font-size="5.6" text-anchor="middle" font-weight="bold" font-style="normal" fill="#222" font-family='"Liberation Sans", sans-serif'  stroke="#222" stroke-width="0.22">ZRP-15</text>
<line x1="148.8" y1="303.8" x2="148.8" y2="305.40000000000003" stroke="#555" stroke-width="0.5"/>
<text transform="translate(10.3 273.4) rotate(-90)" font-size="6.3" font-weight="bold" textLength="49" lengthAdjust="spacingAndGlyphs" fill="#333" font-family='"Liberation Sans", sans-serif' stroke="#333" stroke-width="0.22">Yield/μmol·g<tspan font-size="4.2" dy="-2.3">−1</tspan></text>
<text x="182.8" y="181.7" font-size="14.3" text-anchor="start" font-weight="bold" font-style="normal" fill="#111" font-family='"Liberation Sans", sans-serif'  stroke="#111" stroke-width="0.22">D</text>
<rect x="209.6" y="189.6" width="148.9" height="113.3" fill="none" stroke="#2a2a2a" stroke-width="0.9"/>
<line x1="205.6" y1="301.4" x2="209.6" y2="301.4" stroke="#2a2a2a" stroke-width="0.8"/>
<text x="202.4" y="303.7" font-size="6.9" text-anchor="end" font-weight="bold" font-style="normal" fill="#1a1a1a" font-family='"Liberation Sans", sans-serif'  stroke="#1a1a1a" stroke-width="0.22">0.0</text>
<line x1="207.6" y1="290.2" x2="209.6" y2="290.2" stroke="#2a2a2a" stroke-width="0.7"/>
<line x1="205.6" y1="279.0" x2="209.6" y2="279.0" stroke="#2a2a2a" stroke-width="0.8"/>
<text x="202.4" y="281.3" font-size="6.9" text-anchor="end" font-weight="bold" font-style="normal" fill="#1a1a1a" font-family='"Liberation Sans", sans-serif'  stroke="#1a1a1a" stroke-width="0.22">0.2</text>
<line x1="207.6" y1="267.9" x2="209.6" y2="267.9" stroke="#2a2a2a" stroke-width="0.7"/>
<line x1="205.6" y1="256.7" x2="209.6" y2="256.7" stroke="#2a2a2a" stroke-width="0.8"/>
<text x="202.4" y="259.0" font-size="6.9" text-anchor="end" font-weight="bold" font-style="normal" fill="#1a1a1a" font-family='"Liberation Sans", sans-serif'  stroke="#1a1a1a" stroke-width="0.22">0.4</text>
<line x1="207.6" y1="245.5" x2="209.6" y2="245.5" stroke="#2a2a2a" stroke-width="0.7"/>
<line x1="205.6" y1="234.3" x2="209.6" y2="234.3" stroke="#2a2a2a" stroke-width="0.8"/>
<text x="202.4" y="236.6" font-size="6.9" text-anchor="end" font-weight="bold" font-style="normal" fill="#1a1a1a" font-family='"Liberation Sans", sans-serif'  stroke="#1a1a1a" stroke-width="0.22">0.6</text>
<line x1="207.6" y1="223.1" x2="209.6" y2="223.1" stroke="#2a2a2a" stroke-width="0.7"/>
<line x1="205.6" y1="212.0" x2="209.6" y2="212.0" stroke="#2a2a2a" stroke-width="0.8"/>
<text x="202.4" y="214.3" font-size="6.9" text-anchor="end" font-weight="bold" font-style="normal" fill="#1a1a1a" font-family='"Liberation Sans", sans-serif'  stroke="#1a1a1a" stroke-width="0.22">0.8</text>
<line x1="207.6" y1="200.8" x2="209.6" y2="200.8" stroke="#2a2a2a" stroke-width="0.7"/>
<line x1="205.6" y1="189.6" x2="209.6" y2="189.6" stroke="#2a2a2a" stroke-width="0.8"/>
<text x="202.4" y="191.9" font-size="6.9" text-anchor="end" font-weight="bold" font-style="normal" fill="#1a1a1a" font-family='"Liberation Sans", sans-serif'  stroke="#1a1a1a" stroke-width="0.22">1.0</text>
<line x1="209.6" y1="302.9" x2="209.6" y2="306.59999999999997" stroke="#2a2a2a" stroke-width="0.8"/>
<text x="209.6" y="315.6" font-size="6.9" text-anchor="middle" font-weight="bold" font-style="normal" fill="#1a1a1a" font-family='"Liberation Sans", sans-serif'  stroke="#1a1a1a" stroke-width="0.22">0.9</text>
<line x1="218.9" y1="302.9" x2="218.9" y2="304.7" stroke="#2a2a2a" stroke-width="0.7"/>
<line x1="228.2" y1="302.9" x2="228.2" y2="306.59999999999997" stroke="#2a2a2a" stroke-width="0.8"/>
<text x="228.2" y="315.6" font-size="6.9" text-anchor="middle" font-weight="bold" font-style="normal" fill="#1a1a1a" font-family='"Liberation Sans", sans-serif'  stroke="#1a1a1a" stroke-width="0.22">1.0</text>
<line x1="237.5" y1="302.9" x2="237.5" y2="304.7" stroke="#2a2a2a" stroke-width="0.7"/>
<line x1="246.8" y1="302.9" x2="246.8" y2="306.59999999999997" stroke="#2a2a2a" stroke-width="0.8"/>
<text x="246.8" y="315.6" font-size="6.9" text-anchor="middle" font-weight="bold" font-style="normal" fill="#1a1a1a" font-family='"Liberation Sans", sans-serif'  stroke="#1a1a1a" stroke-width="0.22">1.1</text>
<line x1="256.1" y1="302.9" x2="256.1" y2="304.7" stroke="#2a2a2a" stroke-width="0.7"/>
<line x1="265.4" y1="302.9" x2="265.4" y2="306.59999999999997" stroke="#2a2a2a" stroke-width="0.8"/>
<text x="265.4" y="315.6" font-size="6.9" text-anchor="middle" font-weight="bold" font-style="normal" fill="#1a1a1a" font-family='"Liberation Sans", sans-serif'  stroke="#1a1a1a" stroke-width="0.22">1.2</text>
<line x1="274.7" y1="302.9" x2="274.7" y2="304.7" stroke="#2a2a2a" stroke-width="0.7"/>
<line x1="284.1" y1="302.9" x2="284.1" y2="306.59999999999997" stroke="#2a2a2a" stroke-width="0.8"/>
<text x="284.1" y="315.6" font-size="6.9" text-anchor="middle" font-weight="bold" font-style="normal" fill="#1a1a1a" font-family='"Liberation Sans", sans-serif'  stroke="#1a1a1a" stroke-width="0.22">1.3</text>
<line x1="293.4" y1="302.9" x2="293.4" y2="304.7" stroke="#2a2a2a" stroke-width="0.7"/>
<line x1="302.7" y1="302.9" x2="302.7" y2="306.59999999999997" stroke="#2a2a2a" stroke-width="0.8"/>
<text x="302.7" y="315.6" font-size="6.9" text-anchor="middle" font-weight="bold" font-style="normal" fill="#1a1a1a" font-family='"Liberation Sans", sans-serif'  stroke="#1a1a1a" stroke-width="0.22">1.4</text>
<line x1="312.0" y1="302.9" x2="312.0" y2="304.7" stroke="#2a2a2a" stroke-width="0.7"/>
<line x1="321.3" y1="302.9" x2="321.3" y2="306.59999999999997" stroke="#2a2a2a" stroke-width="0.8"/>
<text x="321.3" y="315.6" font-size="6.9" text-anchor="middle" font-weight="bold" font-style="normal" fill="#1a1a1a" font-family='"Liberation Sans", sans-serif'  stroke="#1a1a1a" stroke-width="0.22">1.5</text>
<line x1="330.6" y1="302.9" x2="330.6" y2="304.7" stroke="#2a2a2a" stroke-width="0.7"/>
<line x1="339.9" y1="302.9" x2="339.9" y2="306.59999999999997" stroke="#2a2a2a" stroke-width="0.8"/>
<text x="339.9" y="315.6" font-size="6.9" text-anchor="middle" font-weight="bold" font-style="normal" fill="#1a1a1a" font-family='"Liberation Sans", sans-serif'  stroke="#1a1a1a" stroke-width="0.22">1.6</text>
<line x1="349.2" y1="302.9" x2="349.2" y2="304.7" stroke="#2a2a2a" stroke-width="0.7"/>
<line x1="358.5" y1="302.9" x2="358.5" y2="306.59999999999997" stroke="#2a2a2a" stroke-width="0.8"/>
<text x="358.5" y="315.6" font-size="6.9" text-anchor="middle" font-weight="bold" font-style="normal" fill="#1a1a1a" font-family='"Liberation Sans", sans-serif'  stroke="#1a1a1a" stroke-width="0.22">1.7</text>
<text x="245.8" y="328.5" font-size="7" textLength="77.6" lengthAdjust="spacingAndGlyphs" font-weight="bold" fill="#222" font-family='"Liberation Sans", sans-serif' stroke="#222" stroke-width="0.22">Potential <tspan font-style="italic">vs.</tspan> RHE (V)</text>
<text transform="translate(180.2 303.4) rotate(-90)" font-size="8" font-weight="bold" textLength="101" lengthAdjust="spacingAndGlyphs" fill="#222" font-family='"Liberation Sans", sans-serif' stroke="#222" stroke-width="0.22">Current density (mA cm<tspan font-size="5" dy="-3">−2</tspan><tspan dy="3">)</tspan></text>
<path d="M209.30 300.60 C212.75 300.60 222.45 300.72 230.00 300.60 C237.55 300.48 246.38 300.48 254.60 299.90 C262.82 299.32 271.08 298.38 279.30 297.10 C287.52 295.82 295.70 293.97 303.90 292.20 C312.10 290.43 319.42 288.47 328.50 286.50 C337.58 284.53 353.42 281.42 358.40 280.40" fill="none" stroke="#8a9a48" stroke-width="1.15"/>
<path d="M209.30 300.40 C212.75 300.38 222.45 300.57 230.00 300.30 C237.55 300.03 246.38 299.95 254.60 298.80 C262.82 297.65 271.08 295.53 279.30 293.40 C287.52 291.27 295.70 288.67 303.90 286.00 C312.10 283.33 319.42 280.33 328.50 277.40 C337.58 274.47 353.42 269.90 358.40 268.40" fill="none" stroke="#eba555" stroke-width="1.15"/>
<path d="M209.30 300.40 C212.75 300.38 222.45 300.60 230.00 300.30 C237.55 300.00 246.38 299.70 254.60 298.60 C262.82 297.50 271.08 295.72 279.30 293.70 C287.52 291.68 295.70 288.80 303.90 286.50 C312.10 284.20 319.42 282.27 328.50 279.90 C337.58 277.53 353.42 273.57 358.40 272.30" fill="none" stroke="#6658c4" stroke-width="1.15"/>
<path d="M209.30 300.20 C212.75 300.10 222.45 300.32 230.00 299.60 C237.55 298.88 248.43 297.35 254.60 295.90 C260.77 294.45 262.88 292.97 267.00 290.90 C271.12 288.83 275.20 285.95 279.30 283.50 C283.40 281.05 287.50 278.65 291.60 276.20 C295.70 273.75 299.80 271.07 303.90 268.80 C308.00 266.53 312.10 264.67 316.20 262.60 C320.30 260.53 324.38 258.28 328.50 256.40 C332.62 254.52 335.92 253.25 340.90 251.30 C345.88 249.35 355.48 245.80 358.40 244.70" fill="none" stroke="#a84cc0" stroke-width="1.15"/>
<path d="M209.30 300.20 C212.75 300.10 224.50 300.00 230.00 299.60 C235.50 299.20 238.20 298.83 242.30 297.80 C246.40 296.77 251.32 294.95 254.60 293.40 C257.88 291.85 259.53 290.55 262.00 288.50 C264.47 286.45 266.93 283.77 269.40 281.10 C271.87 278.43 274.33 275.58 276.80 272.50 C279.27 269.42 281.73 265.90 284.20 262.60 C286.67 259.30 289.13 255.87 291.60 252.70 C294.07 249.53 296.53 246.47 299.00 243.60 C301.47 240.73 303.93 238.20 306.40 235.50 C308.87 232.80 311.33 230.02 313.80 227.40 C316.27 224.78 318.73 222.13 321.20 219.80 C323.67 217.47 326.15 215.38 328.60 213.40 C331.05 211.42 333.45 209.58 335.90 207.90 C338.35 206.22 340.83 204.77 343.30 203.30 C345.77 201.83 348.18 200.47 350.70 199.10 C353.22 197.73 357.12 195.77 358.40 195.10" fill="none" stroke="#d8392f" stroke-width="1.15"/>
<line x1="213" y1="196.0" x2="228" y2="196.0" stroke="#8a9a48" stroke-width="1.1"/>
<text x="229.6" y="198.4" font-size="6.1" font-weight="bold" fill="#1a1a1a" textLength="39.6" lengthAdjust="spacingAndGlyphs" font-family='"Liberation Sans", sans-serif' stroke="#1a1a1a" stroke-width="0.22">Fe<tspan font-size="4" dy="1.3">2</tspan><tspan dy="-1.3">O</tspan><tspan font-size="4" dy="1.3">3</tspan><tspan dy="-1.3">-TiO</tspan><tspan font-size="4" dy="1.3">2</tspan><tspan dy="-1.3">-10</tspan></text>
<line x1="213" y1="205.1" x2="228" y2="205.1" stroke="#e8a050" stroke-width="1.1"/>
<text x="229.6" y="207.5" font-size="6.1" font-weight="bold" fill="#1a1a1a" textLength="39.6" lengthAdjust="spacingAndGlyphs" font-family='"Liberation Sans", sans-serif' stroke="#1a1a1a" stroke-width="0.22">Fe<tspan font-size="4" dy="1.3">2</tspan><tspan dy="-1.3">O</tspan><tspan font-size="4" dy="1.3">3</tspan><tspan dy="-1.3">-TiO</tspan><tspan font-size="4" dy="1.3">2</tspan><tspan dy="-1.3">-20</tspan></text>
<line x1="213" y1="214.2" x2="228" y2="214.2" stroke="#d83a34" stroke-width="1.1"/>
<text x="229.6" y="216.6" font-size="6.1" font-weight="bold" fill="#1a1a1a" textLength="39.6" lengthAdjust="spacingAndGlyphs" font-family='"Liberation Sans", sans-serif' stroke="#1a1a1a" stroke-width="0.22">Fe<tspan font-size="4" dy="1.3">2</tspan><tspan dy="-1.3">O</tspan><tspan font-size="4" dy="1.3">3</tspan><tspan dy="-1.3">-TiO</tspan><tspan font-size="4" dy="1.3">2</tspan><tspan dy="-1.3">-40</tspan></text>
<line x1="213" y1="223.2" x2="228" y2="223.2" stroke="#a848c0" stroke-width="1.1"/>
<text x="229.6" y="225.6" font-size="6.1" font-weight="bold" fill="#1a1a1a" textLength="39.6" lengthAdjust="spacingAndGlyphs" font-family='"Liberation Sans", sans-serif' stroke="#1a1a1a" stroke-width="0.22">Fe<tspan font-size="4" dy="1.3">2</tspan><tspan dy="-1.3">O</tspan><tspan font-size="4" dy="1.3">3</tspan><tspan dy="-1.3">-TiO</tspan><tspan font-size="4" dy="1.3">2</tspan><tspan dy="-1.3">-80</tspan></text>
<line x1="213" y1="232.3" x2="228" y2="232.3" stroke="#6a58c8" stroke-width="1.1"/>
<text x="229.6" y="234.7" font-size="6.1" font-weight="bold" fill="#1a1a1a" textLength="43.4" lengthAdjust="spacingAndGlyphs" font-family='"Liberation Sans", sans-serif' stroke="#1a1a1a" stroke-width="0.22">Fe<tspan font-size="4" dy="1.3">2</tspan><tspan dy="-1.3">O</tspan><tspan font-size="4" dy="1.3">3</tspan><tspan dy="-1.3">-TiO</tspan><tspan font-size="4" dy="1.3">2</tspan><tspan dy="-1.3">-120</tspan></text>
<text x="368.0" y="181.7" font-size="14.3" text-anchor="start" font-weight="bold" font-style="normal" fill="#111" font-family='"Liberation Sans", sans-serif'  stroke="#111" stroke-width="0.22">E</text>
<rect x="401" y="190.1" width="141.7" height="113.7" fill="none" stroke="#333" stroke-width="1.2"/>
<line x1="398.6" y1="303.8" x2="401" y2="303.8" stroke="#222" stroke-width="0.7"/>
<text x="397.2" y="306.2" font-size="6.9" text-anchor="end" font-weight="bold" font-style="normal" fill="#222" font-family='"Liberation Sans", sans-serif'  stroke="#222" stroke-width="0.22">0</text>
<line x1="399.6" y1="292.4" x2="401" y2="292.4" stroke="#222" stroke-width="0.6"/>
<line x1="398.6" y1="281.1" x2="401" y2="281.1" stroke="#222" stroke-width="0.7"/>
<text x="397.2" y="283.5" font-size="6.9" text-anchor="end" font-weight="bold" font-style="normal" fill="#222" font-family='"Liberation Sans", sans-serif'  stroke="#222" stroke-width="0.22">20</text>
<line x1="399.6" y1="269.7" x2="401" y2="269.7" stroke="#222" stroke-width="0.6"/>
<line x1="398.6" y1="258.3" x2="401" y2="258.3" stroke="#222" stroke-width="0.7"/>
<text x="397.2" y="260.7" font-size="6.9" text-anchor="end" font-weight="bold" font-style="normal" fill="#222" font-family='"Liberation Sans", sans-serif'  stroke="#222" stroke-width="0.22">40</text>
<line x1="399.6" y1="246.9" x2="401" y2="246.9" stroke="#222" stroke-width="0.6"/>
<line x1="398.6" y1="235.6" x2="401" y2="235.6" stroke="#222" stroke-width="0.7"/>
<text x="397.2" y="238.0" font-size="6.9" text-anchor="end" font-weight="bold" font-style="normal" fill="#222" font-family='"Liberation Sans", sans-serif'  stroke="#222" stroke-width="0.22">60</text>
<line x1="399.6" y1="224.2" x2="401" y2="224.2" stroke="#222" stroke-width="0.6"/>
<line x1="398.6" y1="212.8" x2="401" y2="212.8" stroke="#222" stroke-width="0.7"/>
<text x="397.2" y="215.2" font-size="6.9" text-anchor="end" font-weight="bold" font-style="normal" fill="#222" font-family='"Liberation Sans", sans-serif'  stroke="#222" stroke-width="0.22">80</text>
<line x1="399.6" y1="201.5" x2="401" y2="201.5" stroke="#222" stroke-width="0.6"/>
<line x1="398.6" y1="190.1" x2="401" y2="190.1" stroke="#222" stroke-width="0.7"/>
<text x="397.2" y="192.5" font-size="6.9" text-anchor="end" font-weight="bold" font-style="normal" fill="#222" font-family='"Liberation Sans", sans-serif'  stroke="#222" stroke-width="0.22">100</text>
<rect x="432.2" y="280.5" width="11.6" height="23.3" fill="url(#eh)"/>
<text x="438.0" y="279.1" font-size="5.7" text-anchor="middle" font-weight="bold" font-style="normal" fill="#1a1a1a" font-family='"Liberation Sans", sans-serif'  stroke="#1a1a1a" stroke-width="0.22">20.46</text>
<rect x="443.8" y="292.8" width="11.1" height="11.0" fill="url(#eo)"/>
<text x="449.4" y="291.4" font-size="5.7" text-anchor="middle" font-weight="bold" font-style="normal" fill="#1a1a1a" font-family='"Liberation Sans", sans-serif'  stroke="#1a1a1a" stroke-width="0.22">9.65</text>
<rect x="460.7" y="267.3" width="11.3" height="36.5" fill="url(#eh)"/>
<text x="466.4" y="265.9" font-size="5.7" text-anchor="middle" font-weight="bold" font-style="normal" fill="#1a1a1a" font-family='"Liberation Sans", sans-serif'  stroke="#1a1a1a" stroke-width="0.22">32.12</text>
<rect x="472" y="286.5" width="11.1" height="17.3" fill="url(#eo)"/>
<text x="477.6" y="285.1" font-size="5.7" text-anchor="middle" font-weight="bold" font-style="normal" fill="#1a1a1a" font-family='"Liberation Sans", sans-serif'  stroke="#1a1a1a" stroke-width="0.22">15.21</text>
<rect x="488.9" y="208.9" width="11.6" height="94.9" fill="url(#eh)"/>
<text x="494.7" y="207.5" font-size="5.7" text-anchor="middle" font-weight="bold" font-style="normal" fill="#1a1a1a" font-family='"Liberation Sans", sans-serif'  stroke="#1a1a1a" stroke-width="0.22">83.48</text>
<rect x="500.5" y="257.4" width="10.8" height="46.4" fill="url(#eo)"/>
<text x="505.9" y="256.0" font-size="5.7" text-anchor="middle" font-weight="bold" font-style="normal" fill="#1a1a1a" font-family='"Liberation Sans", sans-serif'  stroke="#1a1a1a" stroke-width="0.22">40.84</text>
<rect x="516.5" y="265.4" width="11.7" height="38.4" fill="url(#eh)"/>
<text x="522.4" y="264.0" font-size="5.7" text-anchor="middle" font-weight="bold" font-style="normal" fill="#1a1a1a" font-family='"Liberation Sans", sans-serif'  stroke="#1a1a1a" stroke-width="0.22">33.78</text>
<rect x="528.2" y="286.4" width="11.6" height="17.4" fill="url(#eo)"/>
<text x="534.0" y="285.0" font-size="5.7" text-anchor="middle" font-weight="bold" font-style="normal" fill="#1a1a1a" font-family='"Liberation Sans", sans-serif'  stroke="#1a1a1a" stroke-width="0.22">15.33</text>
<rect x="403.1" y="192.2" width="11.6" height="5.2" fill="url(#eh)"/>
<rect x="403.1" y="200.6" width="11.6" height="5.3" fill="url(#eo)"/>
<text x="418" y="196.3" font-size="5.6" font-weight="bold" fill="#222" font-family='"Liberation Sans", sans-serif' stroke="#222" stroke-width="0.22">H<tspan font-size="3.8" dy="1.3">2</tspan></text>
<text x="418" y="205.3" font-size="5.6" font-weight="bold" fill="#222" font-family='"Liberation Sans", sans-serif' stroke="#222" stroke-width="0.22">O<tspan font-size="3.8" dy="1.3">2</tspan></text>
<text x="414.6" y="276.2" font-size="6.6" text-anchor="middle" font-weight="bold" font-style="normal" fill="#111" font-family='"Liberation Sans", sans-serif'  stroke="#111" stroke-width="0.22">Trace</text>
<line x1="414.4" y1="279" x2="414.4" y2="299" stroke="#111" stroke-width="0.8"/>
<path d="M413.1 297.8 L414.4 302.9 L415.7 297.8 Z" fill="#111"/>
<text transform="translate(408.9 313.9) rotate(-15)" font-size="5.8" font-weight="bold" textLength="13.4" lengthAdjust="spacingAndGlyphs" fill="#222" font-family='"Liberation Sans", sans-serif' stroke="#222" stroke-width="0.22">Co<tspan font-size="4.1" dy="1.2">3</tspan><tspan dy="-1.2">O</tspan><tspan font-size="4.1" dy="1.2">4</tspan></text>
<text transform="translate(436.9 312.1) rotate(-15)" font-size="5.8" font-weight="bold" textLength="8.8" lengthAdjust="spacingAndGlyphs" fill="#222" font-family='"Liberation Sans", sans-serif' stroke="#222" stroke-width="0.22">CZS</text>
<text transform="translate(452.8 317.4) rotate(-15)" font-size="5.8" font-weight="bold" textLength="30" lengthAdjust="spacingAndGlyphs" fill="#222" font-family='"Liberation Sans", sans-serif' stroke="#222" stroke-width="0.22">CZS/Co<tspan font-size="4.1" dy="1.2">3</tspan><tspan dy="-1.2">O</tspan><tspan font-size="4.1" dy="1.2">4</tspan><tspan font-size="4.6" dy="-2.2">-1</tspan></text>
<text transform="translate(478.2 318.4) rotate(-15)" font-size="5.8" font-weight="bold" textLength="30" lengthAdjust="spacingAndGlyphs" fill="#222" font-family='"Liberation Sans", sans-serif' stroke="#222" stroke-width="0.22">CZS/Co<tspan font-size="4.1" dy="1.2">3</tspan><tspan dy="-1.2">O</tspan><tspan font-size="4.1" dy="1.2">4</tspan><tspan font-size="4.6" dy="-2.2">-3</tspan></text>
<text transform="translate(507.6 318.0) rotate(-15)" font-size="5.8" font-weight="bold" textLength="30" lengthAdjust="spacingAndGlyphs" fill="#222" font-family='"Liberation Sans", sans-serif' stroke="#222" stroke-width="0.22">CZS/Co<tspan font-size="4.1" dy="1.2">3</tspan><tspan dy="-1.2">O</tspan><tspan font-size="4.1" dy="1.2">4</tspan><tspan font-size="4.6" dy="-2.2">-5</tspan></text>
<text transform="translate(382.8 305.3) rotate(-90)" font-size="8.4" font-weight="bold" textLength="118" lengthAdjust="spacingAndGlyphs" fill="#222" font-family='"Liberation Sans", sans-serif' stroke="#222" stroke-width="0.22">Gas evolution rate (μmol/g/h)</text>
<text x="3.9" y="332.6" font-size="14.3" text-anchor="start" font-weight="bold" font-style="normal" fill="#111" font-family='"Liberation Sans", sans-serif'  stroke="#111" stroke-width="0.22">F</text>
<rect x="34.8" y="341.4" width="130.0" height="115.8" fill="none" stroke="#333" stroke-width="1"/>
<line x1="32.599999999999994" y1="457.2" x2="34.8" y2="457.2" stroke="#333" stroke-width="0.8"/>
<text x="30.9" y="459.6" font-size="6.7" text-anchor="end" font-weight="bold" font-style="normal" fill="#222" font-family='"Liberation Sans", sans-serif'  stroke="#222" stroke-width="0.22">0</text>
<line x1="33.5" y1="442.7" x2="34.8" y2="442.7" stroke="#333" stroke-width="0.6"/>
<line x1="32.599999999999994" y1="428.2" x2="34.8" y2="428.2" stroke="#333" stroke-width="0.8"/>
<text x="30.9" y="430.6" font-size="6.7" text-anchor="end" font-weight="bold" font-style="normal" fill="#222" font-family='"Liberation Sans", sans-serif'  stroke="#222" stroke-width="0.22">200</text>
<line x1="33.5" y1="413.8" x2="34.8" y2="413.8" stroke="#333" stroke-width="0.6"/>
<line x1="32.599999999999994" y1="399.3" x2="34.8" y2="399.3" stroke="#333" stroke-width="0.8"/>
<text x="30.9" y="401.7" font-size="6.7" text-anchor="end" font-weight="bold" font-style="normal" fill="#222" font-family='"Liberation Sans", sans-serif'  stroke="#222" stroke-width="0.22">400</text>
<line x1="33.5" y1="384.8" x2="34.8" y2="384.8" stroke="#333" stroke-width="0.6"/>
<line x1="32.599999999999994" y1="370.4" x2="34.8" y2="370.4" stroke="#333" stroke-width="0.8"/>
<text x="30.9" y="372.8" font-size="6.7" text-anchor="end" font-weight="bold" font-style="normal" fill="#222" font-family='"Liberation Sans", sans-serif'  stroke="#222" stroke-width="0.22">600</text>
<line x1="33.5" y1="355.9" x2="34.8" y2="355.9" stroke="#333" stroke-width="0.6"/>
<line x1="32.599999999999994" y1="341.4" x2="34.8" y2="341.4" stroke="#333" stroke-width="0.8"/>
<text x="30.9" y="343.8" font-size="6.7" text-anchor="end" font-weight="bold" font-style="normal" fill="#222" font-family='"Liberation Sans", sans-serif'  stroke="#222" stroke-width="0.22">800</text>
<line x1="164.8" y1="457.2" x2="166.70000000000002" y2="457.2" stroke="#333" stroke-width="0.8"/>
<text x="168.3" y="459.6" font-size="6.7" text-anchor="start" font-weight="bold" font-style="normal" fill="#222" font-family='"Liberation Sans", sans-serif'  stroke="#222" stroke-width="0.22">0</text>
<line x1="164.8" y1="448.7" x2="166.0" y2="448.7" stroke="#333" stroke-width="0.6"/>
<line x1="164.8" y1="440.1" x2="166.70000000000002" y2="440.1" stroke="#333" stroke-width="0.8"/>
<text x="168.3" y="442.5" font-size="6.7" text-anchor="start" font-weight="bold" font-style="normal" fill="#222" font-family='"Liberation Sans", sans-serif'  stroke="#222" stroke-width="0.22">20</text>
<line x1="164.8" y1="431.6" x2="166.0" y2="431.6" stroke="#333" stroke-width="0.6"/>
<line x1="164.8" y1="423.1" x2="166.70000000000002" y2="423.1" stroke="#333" stroke-width="0.8"/>
<text x="168.3" y="425.5" font-size="6.7" text-anchor="start" font-weight="bold" font-style="normal" fill="#222" font-family='"Liberation Sans", sans-serif'  stroke="#222" stroke-width="0.22">40</text>
<line x1="164.8" y1="414.5" x2="166.0" y2="414.5" stroke="#333" stroke-width="0.6"/>
<line x1="164.8" y1="406.0" x2="166.70000000000002" y2="406.0" stroke="#333" stroke-width="0.8"/>
<text x="168.3" y="408.4" font-size="6.7" text-anchor="start" font-weight="bold" font-style="normal" fill="#222" font-family='"Liberation Sans", sans-serif'  stroke="#222" stroke-width="0.22">60</text>
<line x1="164.8" y1="397.5" x2="166.0" y2="397.5" stroke="#333" stroke-width="0.6"/>
<line x1="164.8" y1="388.9" x2="166.70000000000002" y2="388.9" stroke="#333" stroke-width="0.8"/>
<text x="168.3" y="391.3" font-size="6.7" text-anchor="start" font-weight="bold" font-style="normal" fill="#222" font-family='"Liberation Sans", sans-serif'  stroke="#222" stroke-width="0.22">80</text>
<line x1="164.8" y1="380.4" x2="166.0" y2="380.4" stroke="#333" stroke-width="0.6"/>
<line x1="164.8" y1="371.9" x2="166.70000000000002" y2="371.9" stroke="#333" stroke-width="0.8"/>
<text x="168.3" y="374.3" font-size="6.7" text-anchor="start" font-weight="bold" font-style="normal" fill="#222" font-family='"Liberation Sans", sans-serif'  stroke="#222" stroke-width="0.22">100</text>
<line x1="164.8" y1="363.3" x2="166.0" y2="363.3" stroke="#333" stroke-width="0.6"/>
<line x1="164.8" y1="354.8" x2="166.70000000000002" y2="354.8" stroke="#333" stroke-width="0.8"/>
<text x="168.3" y="357.2" font-size="6.7" text-anchor="start" font-weight="bold" font-style="normal" fill="#222" font-family='"Liberation Sans", sans-serif'  stroke="#222" stroke-width="0.22">120</text>
<line x1="164.8" y1="346.3" x2="166.0" y2="346.3" stroke="#333" stroke-width="0.6"/>
<rect x="38.3" y="397.3" width="12.9" height="59.9" fill="url(#fr)"/>
<rect x="51.2" y="438" width="13.0" height="19.2" fill="url(#fg)"/>
<rect x="70.6" y="377" width="13.3" height="80.2" fill="url(#fr)"/>
<rect x="83.9" y="438.9" width="13.0" height="18.3" fill="url(#fg)"/>
<rect x="103.6" y="404" width="13.0" height="53.2" fill="url(#fr)"/>
<rect x="116.6" y="444" width="13.0" height="13.2" fill="url(#fg)"/>
<rect x="136.5" y="403.4" width="13.0" height="53.8" fill="url(#fr)"/>
<rect x="149.5" y="448" width="12.8" height="9.2" fill="url(#fg)"/>
<polyline points="46.2,371.3 80.1,342.9 114,380 147.3,380.2" fill="none" stroke="#e6707a" stroke-width="1.1" stroke-dasharray="1 2.7"/>
<polyline points="57,370.1 89.4,375.3 121.7,398.4 154.7,412.6" fill="none" stroke="#bcdc8c" stroke-width="1.1" stroke-dasharray="1 2.7"/>
<circle cx="46.2" cy="371.3" r="2" fill="#e45c68"/>
<circle cx="80.1" cy="342.9" r="2" fill="#e45c68"/>
<circle cx="114" cy="380" r="2" fill="#e45c68"/>
<circle cx="147.3" cy="380.2" r="2" fill="#e45c68"/>
<circle cx="57" cy="370.1" r="2" fill="#acd474"/>
<circle cx="89.4" cy="375.3" r="2" fill="#acd474"/>
<circle cx="121.7" cy="398.4" r="2" fill="#acd474"/>
<circle cx="154.7" cy="412.6" r="2" fill="#acd474"/>
<rect x="113.5" y="344.5" width="10.3" height="4.4" fill="url(#fr)"/>
<rect x="113.5" y="353.8" width="10.3" height="4.9" fill="url(#fg)"/>
<text x="127.2" y="348.9" font-size="6.1" font-weight="bold" fill="#222" textLength="35.2" lengthAdjust="spacingAndGlyphs" font-family='"Liberation Sans", sans-serif' stroke="#222" stroke-width="0.22">CZS/Co<tspan font-size="4.1" dy="1.3">3</tspan><tspan dy="-1.3">O</tspan><tspan font-size="4.1" dy="1.3">4</tspan><tspan dy="-1.3">-3</tspan></text>
<text x="127.2" y="358.7" font-size="6.1" text-anchor="start" font-weight="bold" font-style="normal" fill="#222" font-family='"Liberation Sans", sans-serif'  stroke="#222" stroke-width="0.22">CZS</text>
<text x="51.2" y="472.6" font-size="7.4" text-anchor="middle" font-weight="bold" font-style="normal" fill="#222" font-family='"Liberation Sans", sans-serif'  stroke="#222" stroke-width="0.22">1st</text>
<text x="83.9" y="472.6" font-size="7.4" text-anchor="middle" font-weight="bold" font-style="normal" fill="#222" font-family='"Liberation Sans", sans-serif'  stroke="#222" stroke-width="0.22">2nd</text>
<text x="116.6" y="472.6" font-size="7.4" text-anchor="middle" font-weight="bold" font-style="normal" fill="#222" font-family='"Liberation Sans", sans-serif'  stroke="#222" stroke-width="0.22">3rd</text>
<text x="149.5" y="472.6" font-size="7.4" text-anchor="middle" font-weight="bold" font-style="normal" fill="#222" font-family='"Liberation Sans", sans-serif'  stroke="#222" stroke-width="0.22">4th</text>
<text transform="translate(15 451.6) rotate(-90)" font-size="9" font-weight="bold" textLength="105" lengthAdjust="spacingAndGlyphs" fill="#222" font-family='"Liberation Sans", sans-serif' stroke="#222" stroke-width="0.22">H<tspan font-size="6" dy="1.8">2</tspan><tspan dy="-1.8"> production (μmol/g)</tspan></text>
<text transform="translate(163.4 427.4) rotate(-90)" font-size="8.8" font-weight="bold" textLength="69.4" lengthAdjust="spacingAndGlyphs" fill="#222" font-family='"Liberation Sans", sans-serif' stroke="#222" stroke-width="0.22">Retention rate %</text>
<text x="182.3" y="332.4" font-size="14.3" text-anchor="start" font-weight="bold" font-style="normal" fill="#111" font-family='"Liberation Sans", sans-serif'  stroke="#111" stroke-width="0.22">G</text>
<rect x="214.4" y="342.5" width="147.3" height="119.3" fill="none" stroke="#222" stroke-width="1"/>
<line x1="212.20000000000002" y1="461.8" x2="214.4" y2="461.8" stroke="#222" stroke-width="0.8"/>
<text x="211.2" y="464.4" font-size="7.5" text-anchor="end" font-weight="bold" font-style="normal" fill="#222" font-family='"Liberation Sans", sans-serif'  stroke="#222" stroke-width="0.22">0</text>
<line x1="213.20000000000002" y1="451.9" x2="214.4" y2="451.9" stroke="#222" stroke-width="0.6"/>
<line x1="212.20000000000002" y1="441.9" x2="214.4" y2="441.9" stroke="#222" stroke-width="0.8"/>
<text x="211.2" y="444.5" font-size="7.5" text-anchor="end" font-weight="bold" font-style="normal" fill="#222" font-family='"Liberation Sans", sans-serif'  stroke="#222" stroke-width="0.22">3</text>
<line x1="213.20000000000002" y1="432.0" x2="214.4" y2="432.0" stroke="#222" stroke-width="0.6"/>
<line x1="212.20000000000002" y1="422.0" x2="214.4" y2="422.0" stroke="#222" stroke-width="0.8"/>
<text x="211.2" y="424.6" font-size="7.5" text-anchor="end" font-weight="bold" font-style="normal" fill="#222" font-family='"Liberation Sans", sans-serif'  stroke="#222" stroke-width="0.22">6</text>
<line x1="213.20000000000002" y1="412.1" x2="214.4" y2="412.1" stroke="#222" stroke-width="0.6"/>
<line x1="212.20000000000002" y1="402.1" x2="214.4" y2="402.1" stroke="#222" stroke-width="0.8"/>
<text x="211.2" y="404.8" font-size="7.5" text-anchor="end" font-weight="bold" font-style="normal" fill="#222" font-family='"Liberation Sans", sans-serif'  stroke="#222" stroke-width="0.22">9</text>
<line x1="213.20000000000002" y1="392.2" x2="214.4" y2="392.2" stroke="#222" stroke-width="0.6"/>
<line x1="212.20000000000002" y1="382.3" x2="214.4" y2="382.3" stroke="#222" stroke-width="0.8"/>
<text x="211.2" y="384.9" font-size="7.5" text-anchor="end" font-weight="bold" font-style="normal" fill="#222" font-family='"Liberation Sans", sans-serif'  stroke="#222" stroke-width="0.22">12</text>
<line x1="213.20000000000002" y1="372.3" x2="214.4" y2="372.3" stroke="#222" stroke-width="0.6"/>
<line x1="212.20000000000002" y1="362.4" x2="214.4" y2="362.4" stroke="#222" stroke-width="0.8"/>
<text x="211.2" y="365.0" font-size="7.5" text-anchor="end" font-weight="bold" font-style="normal" fill="#222" font-family='"Liberation Sans", sans-serif'  stroke="#222" stroke-width="0.22">15</text>
<line x1="213.20000000000002" y1="352.4" x2="214.4" y2="352.4" stroke="#222" stroke-width="0.6"/>
<line x1="212.20000000000002" y1="342.5" x2="214.4" y2="342.5" stroke="#222" stroke-width="0.8"/>
<text x="211.2" y="345.1" font-size="7.5" text-anchor="end" font-weight="bold" font-style="normal" fill="#222" font-family='"Liberation Sans", sans-serif'  stroke="#222" stroke-width="0.22">18</text>
<rect x="218.3" y="459.1" width="17.1" height="2.7" fill="#b8614e" stroke="#6a3028" stroke-width="0.6"/>
<rect x="243.4" y="455.3" width="16.6" height="6.5" fill="#e47ac8" stroke="#9a3a80" stroke-width="0.6"/>
<g stroke="#1a1a1a" stroke-width="0.9"><line x1="251.7" y1="454.6" x2="251.7" y2="456"/><line x1="250.4" y1="454.6" x2="253.0" y2="454.6"/><line x1="250.4" y1="456" x2="253.0" y2="456"/></g>
<rect x="267.5" y="427.8" width="17.2" height="34.0" fill="#48b248" stroke="#2a6a2a" stroke-width="0.6"/>
<g stroke="#1a1a1a" stroke-width="0.9"><line x1="276.1" y1="425.5" x2="276.1" y2="430.9"/><line x1="274.8" y1="425.5" x2="277.4" y2="425.5"/><line x1="274.8" y1="430.9" x2="277.4" y2="430.9"/></g>
<text x="276.1" y="422.2" font-size="7.2" text-anchor="middle" font-weight="bold" font-style="normal" fill="#3a7a2a" font-family='"Liberation Sans", sans-serif'  stroke="#3a7a2a" stroke-width="0.22">5.16</text>
<rect x="292.2" y="366.1" width="16.6" height="95.7" fill="#f25c5c" stroke="#a83030" stroke-width="0.6"/>
<g stroke="#1a1a1a" stroke-width="0.9"><line x1="300.5" y1="359.3" x2="300.5" y2="371.9"/><line x1="299.2" y1="359.3" x2="301.8" y2="359.3"/><line x1="299.2" y1="371.9" x2="301.8" y2="371.9"/></g>
<text x="300.5" y="356.3" font-size="7.2" text-anchor="middle" font-weight="bold" font-style="normal" fill="#b83040" font-family='"Liberation Sans", sans-serif'  stroke="#b83040" stroke-width="0.22">14.05</text>
<rect x="317.1" y="401.8" width="16.7" height="60.0" fill="#c9a96a" stroke="#7a6a3a" stroke-width="0.6"/>
<g stroke="#1a1a1a" stroke-width="0.9"><line x1="325.5" y1="396.7" x2="325.5" y2="406.4"/><line x1="324.2" y1="396.7" x2="326.8" y2="396.7"/><line x1="324.2" y1="406.4" x2="326.8" y2="406.4"/></g>
<text x="325.5" y="394.2" font-size="7.2" text-anchor="middle" font-weight="bold" font-style="normal" fill="#8a7a30" font-family='"Liberation Sans", sans-serif'  stroke="#8a7a30" stroke-width="0.22">9.13</text>
<rect x="342" y="422.2" width="15.8" height="39.6" fill="#5a66b8" stroke="#2a3478" stroke-width="0.6"/>
<g stroke="#1a1a1a" stroke-width="0.9"><line x1="349.9" y1="418.5" x2="349.9" y2="424.5"/><line x1="348.6" y1="418.5" x2="351.2" y2="418.5"/><line x1="348.6" y1="424.5" x2="351.2" y2="424.5"/></g>
<text x="349.9" y="416.4" font-size="7.2" text-anchor="middle" font-weight="bold" font-style="normal" fill="#303a80" font-family='"Liberation Sans", sans-serif'  stroke="#303a80" stroke-width="0.22">6.09</text>
<path d="M236.8 459.1 h-1.2 M227 459.1 h1.5" stroke="#222" stroke-width="0.8"/>
<polyline points="286.2,366.4 250.7,366.4 250.7,447" fill="none" stroke="#333" stroke-width="0.95" stroke-dasharray="3.6 1.2 0.9 1.2"/>
<path d="M249 446.2 L250.6 453.6 L252.2 446.2 Z" fill="#1a1a1a"/>
<text transform="translate(246 418.7) rotate(-90)" font-size="7.2" font-weight="bold" textLength="35" lengthAdjust="spacingAndGlyphs" fill="#1a1a1a" font-family='"Liberation Sans", sans-serif' stroke="#1a1a1a" stroke-width="0.22">14.5 times</text>
<text transform="translate(221.3 474.2) rotate(-14)" font-size="6.9" font-weight="bold" textLength="9" lengthAdjust="spacingAndGlyphs" fill="#3a2424" font-family='"Liberation Sans", sans-serif' stroke="#3a2424" stroke-width="0.22">ZIS</text>
<text transform="translate(242.7 477.9) rotate(-14)" font-size="6.9" font-weight="bold" textLength="17.8" lengthAdjust="spacingAndGlyphs" fill="#d4449c" font-family='"Liberation Sans", sans-serif' stroke="#d4449c" stroke-width="0.22">WO<tspan font-size="4.9" dy="1.4">3-x</tspan></text>
<text transform="translate(259.8 480.7) rotate(-14)" font-size="6.9" font-weight="bold" textLength="29.5" lengthAdjust="spacingAndGlyphs" fill="#2a6a34" font-family='"Liberation Sans", sans-serif' stroke="#2a6a34" stroke-width="0.22">WO<tspan font-size="4.9" dy="1.4">3-x</tspan><tspan dy="-1.4">/ZIS-1</tspan></text>
<text transform="translate(285.2 480.7) rotate(-14)" font-size="6.9" font-weight="bold" textLength="29.5" lengthAdjust="spacingAndGlyphs" fill="#d0303e" font-family='"Liberation Sans", sans-serif' stroke="#d0303e" stroke-width="0.22">WO<tspan font-size="4.9" dy="1.4">3-x</tspan><tspan dy="-1.4">/ZIS-3</tspan></text>
<text transform="translate(310.0 480.7) rotate(-14)" font-size="6.9" font-weight="bold" textLength="29.5" lengthAdjust="spacingAndGlyphs" fill="#9a9036" font-family='"Liberation Sans", sans-serif' stroke="#9a9036" stroke-width="0.22">WO<tspan font-size="4.9" dy="1.4">3-x</tspan><tspan dy="-1.4">/ZIS-6</tspan></text>
<text transform="translate(335.0 481.1) rotate(-14)" font-size="6.9" font-weight="bold" textLength="29.5" lengthAdjust="spacingAndGlyphs" fill="#2e2e7a" font-family='"Liberation Sans", sans-serif' stroke="#2e2e7a" stroke-width="0.22">WO<tspan font-size="4.9" dy="1.4">3-x</tspan><tspan dy="-1.4">/ZIS-9</tspan></text>
<text transform="translate(195.8 464.2) rotate(-90)" font-size="9" font-weight="bold" textLength="126" lengthAdjust="spacingAndGlyphs" fill="#222" font-family='"Liberation Sans", sans-serif' stroke="#222" stroke-width="0.22">H<tspan font-size="6" dy="1.8">2</tspan><tspan dy="-1.8"> evolution rate (μmol/g/h)</tspan></text>
<text x="368.0" y="332.4" font-size="14.3" text-anchor="start" font-weight="bold" font-style="normal" fill="#111" font-family='"Liberation Sans", sans-serif'  stroke="#111" stroke-width="0.22">H</text>
<rect x="407.9" y="341.4" width="137.3" height="118.1" fill="none" stroke="#7a7a7a" stroke-width="1.0"/>
<line x1="407.9" y1="459.5" x2="409.9" y2="459.5" stroke="#888" stroke-width="0.6"/>
<text x="404.6" y="461.8" font-size="6.6" text-anchor="end" font-weight="bold" font-style="normal" fill="#222" font-family='"Liberation Sans", sans-serif'  stroke="#222" stroke-width="0.22">0</text>
<line x1="407.9" y1="439.8" x2="409.9" y2="439.8" stroke="#888" stroke-width="0.6"/>
<text x="404.6" y="442.1" font-size="6.6" text-anchor="end" font-weight="bold" font-style="normal" fill="#222" font-family='"Liberation Sans", sans-serif'  stroke="#222" stroke-width="0.22">500</text>
<line x1="407.9" y1="420.1" x2="409.9" y2="420.1" stroke="#888" stroke-width="0.6"/>
<text x="404.6" y="422.4" font-size="6.6" text-anchor="end" font-weight="bold" font-style="normal" fill="#222" font-family='"Liberation Sans", sans-serif'  stroke="#222" stroke-width="0.22">1000</text>
<line x1="407.9" y1="400.4" x2="409.9" y2="400.4" stroke="#888" stroke-width="0.6"/>
<text x="404.6" y="402.7" font-size="6.6" text-anchor="end" font-weight="bold" font-style="normal" fill="#222" font-family='"Liberation Sans", sans-serif'  stroke="#222" stroke-width="0.22">1500</text>
<line x1="407.9" y1="380.7" x2="409.9" y2="380.7" stroke="#888" stroke-width="0.6"/>
<text x="404.6" y="383.0" font-size="6.6" text-anchor="end" font-weight="bold" font-style="normal" fill="#222" font-family='"Liberation Sans", sans-serif'  stroke="#222" stroke-width="0.22">2000</text>
<line x1="407.9" y1="361.0" x2="409.9" y2="361.0" stroke="#888" stroke-width="0.6"/>
<text x="404.6" y="363.3" font-size="6.6" text-anchor="end" font-weight="bold" font-style="normal" fill="#222" font-family='"Liberation Sans", sans-serif'  stroke="#222" stroke-width="0.22">2500</text>
<line x1="407.9" y1="455.6" x2="408.9" y2="455.6" stroke="#999" stroke-width="0.4"/>
<line x1="407.9" y1="451.6" x2="408.9" y2="451.6" stroke="#999" stroke-width="0.4"/>
<line x1="407.9" y1="447.7" x2="408.9" y2="447.7" stroke="#999" stroke-width="0.4"/>
<line x1="407.9" y1="443.7" x2="408.9" y2="443.7" stroke="#999" stroke-width="0.4"/>
<line x1="407.9" y1="435.9" x2="408.9" y2="435.9" stroke="#999" stroke-width="0.4"/>
<line x1="407.9" y1="431.9" x2="408.9" y2="431.9" stroke="#999" stroke-width="0.4"/>
<line x1="407.9" y1="428.0" x2="408.9" y2="428.0" stroke="#999" stroke-width="0.4"/>
<line x1="407.9" y1="424.0" x2="408.9" y2="424.0" stroke="#999" stroke-width="0.4"/>
<line x1="407.9" y1="416.2" x2="408.9" y2="416.2" stroke="#999" stroke-width="0.4"/>
<line x1="407.9" y1="412.2" x2="408.9" y2="412.2" stroke="#999" stroke-width="0.4"/>
<line x1="407.9" y1="408.3" x2="408.9" y2="408.3" stroke="#999" stroke-width="0.4"/>
<line x1="407.9" y1="404.3" x2="408.9" y2="404.3" stroke="#999" stroke-width="0.4"/>
<line x1="407.9" y1="396.5" x2="408.9" y2="396.5" stroke="#999" stroke-width="0.4"/>
<line x1="407.9" y1="392.5" x2="408.9" y2="392.5" stroke="#999" stroke-width="0.4"/>
<line x1="407.9" y1="388.6" x2="408.9" y2="388.6" stroke="#999" stroke-width="0.4"/>
<line x1="407.9" y1="384.6" x2="408.9" y2="384.6" stroke="#999" stroke-width="0.4"/>
<line x1="407.9" y1="376.8" x2="408.9" y2="376.8" stroke="#999" stroke-width="0.4"/>
<line x1="407.9" y1="372.8" x2="408.9" y2="372.8" stroke="#999" stroke-width="0.4"/>
<line x1="407.9" y1="368.9" x2="408.9" y2="368.9" stroke="#999" stroke-width="0.4"/>
<line x1="407.9" y1="364.9" x2="408.9" y2="364.9" stroke="#999" stroke-width="0.4"/>
<line x1="407.9" y1="357.1" x2="408.9" y2="357.1" stroke="#999" stroke-width="0.4"/>
<line x1="407.9" y1="353.1" x2="408.9" y2="353.1" stroke="#999" stroke-width="0.4"/>
<line x1="407.9" y1="349.2" x2="408.9" y2="349.2" stroke="#999" stroke-width="0.4"/>
<rect x="410.9" y="445.1" width="21.6" height="14.4" fill="url(#hb)"/>
<rect x="465" y="363.2" width="22.3" height="96.3" fill="url(#hb)"/>
<rect x="520" y="408.6" width="21.7" height="50.9" fill="url(#hb)"/>
<text x="408.7" y="468.4" font-size="6.2" font-weight="bold" textLength="25.3" lengthAdjust="spacingAndGlyphs" fill="#c0282a" font-family='"Liberation Sans", sans-serif' stroke="#c0282a" stroke-width="0.22">[2.3/0.7]</text>
<text x="461" y="468.4" font-size="6.2" font-weight="bold" textLength="34" lengthAdjust="spacingAndGlyphs" fill="#c0282a" font-family='"Liberation Sans", sans-serif' stroke="#c0282a" stroke-width="0.22">[2.3/0.7]<tspan fill="#222" stroke="#222" stroke-width="0.22">-90</tspan></text>
<text x="509.2" y="468.4" font-size="6.2" font-weight="bold" textLength="34.6" lengthAdjust="spacingAndGlyphs" fill="#c0282a" font-family='"Liberation Sans", sans-serif' stroke="#c0282a" stroke-width="0.22">[2.3/0.7]<tspan fill="#222" stroke="#222" stroke-width="0.22">-120</tspan></text>
<text transform="translate(384.2 439.5) rotate(-90)" font-size="9.6" font-weight="bold" textLength="89.8" lengthAdjust="spacingAndGlyphs" fill="#222" font-family='"Liberation Sans", sans-serif' stroke="#222" stroke-width="0.22">H<tspan font-size="6.4" dy="2">2</tspan><tspan dy="-2"> (μmol g</tspan><tspan font-size="6.4" dy="-3.6">−1</tspan><tspan dy="3.6"> h</tspan><tspan font-size="6.4" dy="-3.6">−1</tspan><tspan dy="3.6">)</tspan></text></svg></body></html>
